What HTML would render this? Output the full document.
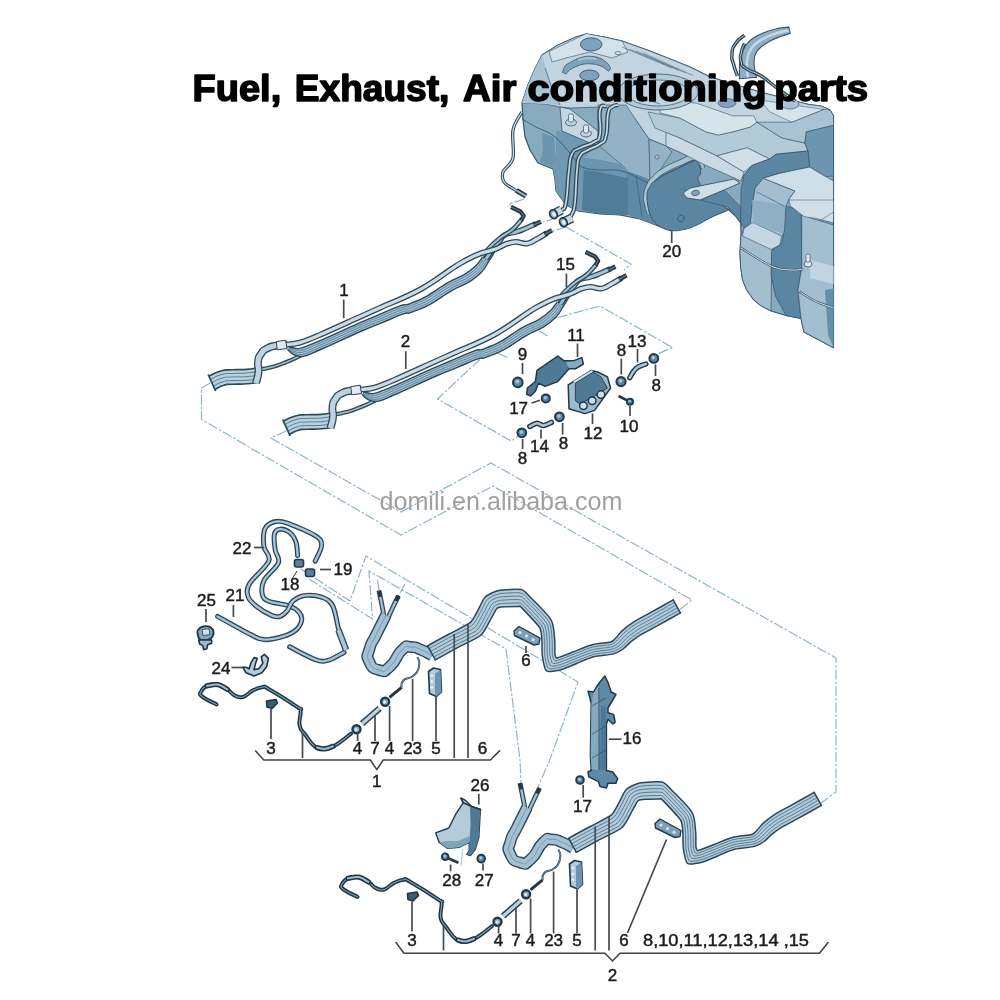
<!DOCTYPE html>
<html><head><meta charset="utf-8"><title>Fuel, Exhaust, Air conditioning parts</title>
<style>
html,body{margin:0;padding:0;background:#fff;}
body{width:1000px;height:1000px;overflow:hidden;position:relative;font-family:"Liberation Sans",sans-serif;}
svg{position:absolute;left:0;top:0;display:block}
svg.d text{font-family:"Liberation Sans",sans-serif;}
svg.t text{font-family:"Liberation Sans",sans-serif;font-weight:bold;}
</style></head><body>
<svg class="d" width="1000" height="1000" viewBox="0 0 1000 1000">
<defs><filter id="soft" x="-2%" y="-2%" width="104%" height="104%"><feGaussianBlur stdDeviation="0.45"/></filter></defs>
<g filter="url(#soft)">
<path d="M210 383 L201.5 388 L201.5 419.5 L401 535 L493 486 L692 600 L678 611" fill="none" stroke="#8db1c6" stroke-width="1.15" stroke-dasharray="10 2 2.5 2"/>
<path d="M286 431 L271 438 L401 512 L491 463 L836 658 L836 792 L821 803" fill="none" stroke="#8db1c6" stroke-width="1.15" stroke-dasharray="10 2 2.5 2"/>
<path d="M547.5 336 L530 325 L600 306 L672.5 347.5 L657.5 354" fill="none" stroke="#8db1c6" stroke-width="1.15" stroke-dasharray="10 2 2.5 2"/>
<path d="M507.5 357.5 L490 350 L437.5 399 L511 441 L519 436" fill="none" stroke="#8db1c6" stroke-width="1.15" stroke-dasharray="10 2 2.5 2"/>
<path d="M524 199 L509 204 L516 209" fill="none" stroke="#8db1c6" stroke-width="1.15" stroke-dasharray="10 2 2.5 2"/>
<path d="M556 218 L543 222" fill="none" stroke="#8db1c6" stroke-width="1.15" stroke-dasharray="10 2 2.5 2"/>
<path d="M566 227 L553 231" fill="none" stroke="#8db1c6" stroke-width="1.15" stroke-dasharray="10 2 2.5 2"/>
<path d="M566 227 L631 264 L624 270" fill="none" stroke="#8db1c6" stroke-width="1.15" stroke-dasharray="10 2 2.5 2"/>
<path d="M301 569 L350 601 L366 556 L504 637.5 L578 682 L549 762 L537 789" fill="none" stroke="#8db1c6" stroke-width="1.15" stroke-dasharray="10 2 2.5 2"/>
<path d="M309 579 L372.5 619 L369 571 L506 649 L520 760 L521 784" fill="none" stroke="#8db1c6" stroke-width="1.15" stroke-dasharray="10 2 2.5 2"/>
<path d="M377.5 580 L379 590" fill="none" stroke="#8db1c6" stroke-width="1.15" stroke-dasharray="10 2 2.5 2"/>
<path d="M405 584 L399 595" fill="none" stroke="#8db1c6" stroke-width="1.15" stroke-dasharray="10 2 2.5 2"/>
<path d="M522 103 L528 85 L534 71 L542 55 L558 45 L576 37 L586 34 L604 37 L622 41 L650 51 L690 67 L710 77 L760 92 L809 104.6 L821 106 L830 110 L833.5 116 L833.5 347.7 L804 332 L801 318.5 L786 315.5 L771 311 L761 305.8 L753 299 L746.5 289.5 L742.5 279.5 L740.6 266 L740 252.5 L741 236 L740.8 223 L736 216.6 L728.4 209.6 L692 225 L671 230.4 L655.6 225 L640 219 L620 215 L600 214 L578 211 L566 205 L556 191 L555 180 L553 169 L538 163 L530 150 L525 137 L523 120Z" fill="#88aabf" stroke="#34536a" stroke-width="1.2" stroke-linejoin="round" />
<path d="M534 71 L542 55 L558 45 L576 37 L586 34 L604 37 L622 41 L650 51 L690 67 L710 77 L760 92 L809 104.6 L821 106 L830 110 L833.5 116 L833.5 128 L806.4 131.8 L804.8 143 L808 151 L776 154.2 L769.6 159 L752 165.4 L744 175 L741 181 L703 164 L681.6 153 L666 146 L649 139 L636 120 L624 106 L600 107 L570 108 L560 107 L545 104 L522 103 L528 85Z" fill="#c1d4df" stroke="#34536a" stroke-width="0.7" stroke-linejoin="round" />
<path d="M522 103 L528 85 L534 71 L542 55 L546 68 L552 88 L560 105 L545 104Z" fill="#a9c3d2" stroke-linejoin="round" />
<path d="M545 68 L552 88 L560 105" fill="none" stroke="#34536a" stroke-width="0.6" stroke-linejoin="round" />
<path d="M542 133 L554 137 L556 160 L553 168 L540 162 L543 150Z" fill="#6c95af" stroke-linejoin="round" />
<path d="M556 131 L562 131 L590 143 L598 145 L584 158 L582 210 L578 211 L566 205 L556 191 L555 180 L553 169 L556 160Z" fill="#7198b1" stroke-linejoin="round" />
<path d="M598 105 L626 105 L636 120 L649 139 L650 180 L628 172 L622 165 L598 145 L598 131Z" fill="#93b2c5" stroke="#34536a" stroke-width="0.6" stroke-linejoin="round" />
<path d="M584 158 L600 160 L622 165 L628 172 L628 215 L620 215 L600 214 L582 210Z" fill="#4f7b96" stroke-linejoin="round" />
<path d="M584 158 L600 160 L622 165 L628 172 L627 178 L600 172 L584 170Z" fill="#6c95af" stroke-linejoin="round" />
<path d="M628 172 L650 180 L649 193 L650 210 L655.6 225 L640 219 L628 215Z" fill="#5f8aa5" stroke-linejoin="round" />
<path d="M636 176 L642 217" fill="none" stroke="#34536a" stroke-width="0.6" stroke-linejoin="round" />
<path d="M649 139 L666 146 L672 152 L660 170 L650 182Z" fill="#93b2c5" stroke="#34536a" stroke-width="0.6" stroke-linejoin="round" />
<circle cx="657" cy="157" r="2" fill="#a9c3d2" stroke="#34536a" stroke-width="0.6"/>
<path d="M686 156 L703 164 L741 181 L741 200 L728.4 209.6 L700 190Z" fill="#88aabf" stroke-linejoin="round" />
<path d="M647.3 214.3 C646.6 211.9 645.7 210.2 644.7 205.3 C643.7 200.4 643.1 201.2 643.6 195.8 C644.1 190.4 644.2 190.1 646.6 185.1 C648.9 180 648.1 181.3 652.4 176.9 C656.7 172.4 655.6 172.8 662.7 168.3 C669.8 163.9 670.9 163.8 678.9 160.3 C687 156.8 686.8 155.4 692.8 155.3 C698.8 155.2 698.4 156.8 701.5 160 C704.6 163.2 703.6 165.4 704.4 167.4 L701.6 168.6 C700.8 167.1 700.8 165.1 698.5 163 C696.2 160.9 697.8 160.1 693.2 160.7 C688.5 161.3 688.5 162.1 681.1 165.3 C673.6 168.5 672.1 168.7 665.3 172.7 C658.5 176.6 659.6 176.3 655.6 180.1 C651.7 183.9 652.6 182.6 650.4 186.9 C648.3 191.2 648.2 191.5 647.6 196.2 C647.1 201 647.7 200 648.3 204.7 C648.8 209.4 649.3 211.3 649.7 213.7 Z" fill="#a9c4d3" stroke="none"/>
<path d="M647.3 214.3 C646.6 211.9 645.7 210.2 644.7 205.3 C643.7 200.4 643.1 201.2 643.6 195.8 C644.1 190.4 644.2 190.1 646.6 185.1 C648.9 180 648.1 181.3 652.4 176.9 C656.7 172.4 655.6 172.8 662.7 168.3 C669.8 163.9 670.9 163.8 678.9 160.3 C687 156.8 686.8 155.4 692.8 155.3 C698.8 155.2 698.4 156.8 701.5 160 C704.6 163.2 703.6 165.4 704.4 167.4" fill="none" stroke="#34536a" stroke-width="0.8" stroke-linecap="round"/>
<path d="M649.7 213.7 C649.3 211.3 648.8 209.4 648.3 204.7 C647.7 200 647.1 201 647.6 196.2 C648.2 191.5 648.3 191.2 650.4 186.9 C652.6 182.6 651.7 183.9 655.6 180.1 C659.6 176.3 658.5 176.6 665.3 172.7 C672.1 168.7 673.6 168.5 681.1 165.3 C688.5 162.1 688.5 161.3 693.2 160.7 C697.8 160.1 696.2 160.9 698.5 163 C700.8 165.1 700.8 167.1 701.6 168.6" fill="none" stroke="#34536a" stroke-width="0.8" stroke-linecap="round"/>
<path d="M649 212 C648.5 207.7 646.7 202.8 647 196 C647.3 189.2 647.9 190.6 650 186.5 C652.1 182.4 651 184.1 655 180.8 C659 177.5 658.3 177.9 665 174.2 C671.7 170.5 672.3 170.7 680 167 C687.7 163.3 688.8 160.8 694 160.5 C699.2 160.2 697.8 162.7 699.5 166 C701.2 169.3 700.6 168.7 700.5 173 C700.4 177.3 695.9 175.6 699 182 C702.1 188.4 704.8 190.1 712 197 C719.2 203.9 721.6 204.6 726 208 C730.4 211.4 732.1 207.2 728.4 209.6 C724.7 212 720.6 212.8 712 217 C703.4 221.2 703.5 222.2 696 225.5 C688.5 228.8 690.7 228.2 684 229.5 C677.3 230.8 677.7 231.3 671 230.4 C664.3 229.5 664.1 229 659 226 C653.9 223 653.9 220.9 652 219Z" fill="#5a86a1" stroke="#34536a" stroke-width="0.9" stroke-linejoin="round" />
<path d="M655 181 L665 174.5 L694 161" fill="none" stroke="#34536a" stroke-width="0.7" stroke-linejoin="round" />
<ellipse cx="681" cy="218.5" rx="3" ry="3.6" transform="rotate(30 681 218.5)" fill="none" stroke="#34536a" stroke-width="0.8"/>
<path d="M700 200 L724 190 L740.8 207 L740.8 223 L736 216.6 L728 207Z" fill="#5a86a1" stroke="#34536a" stroke-width="0.6" stroke-linejoin="round" />
<path d="M683 193 L690 188 L734 179 L740 183 L724 190 L700 200 L687 198Z" fill="#cfdfe8" stroke="#34536a" stroke-width="0.9" stroke-linejoin="round" />
<ellipse cx="695.5" cy="193" rx="4" ry="2.6" transform="rotate(-12 695.5 193)" fill="#7fa3ba" stroke="#34536a" stroke-width="0.7"/>
<path d="M666 132 L680 138 L716.8 155.8 L744 172 L741 181 L703 164 L681.6 153 L666 146Z" fill="#c9dae4" stroke="#34536a" stroke-width="0.6" stroke-linejoin="round" />
<path d="M648 112 L680 118 L705.6 131.8 L718.4 135 L732.8 131.8 L750.4 127 L756.8 122.2 L782 138 L804.8 143 L808 151 L776 154.2 L769.6 159 L747.2 147.8 L716.8 155.8 L680 138 L655 128Z" fill="#b3cad7" stroke="#34536a" stroke-width="0.6" stroke-linejoin="round" />
<path d="M660 108 L680 102 L696 103 L732.8 115.8 L753.6 115.8 L756.8 122.2 L750.4 127 L732.8 131.8 L718.4 135 L705.6 131.8 L680 118 L660 113Z" fill="#d5e3eb" stroke="#34536a" stroke-width="0.6" stroke-linejoin="round" />
<path d="M716.8 155.8 L747.2 147.8 L769.6 159 L752 165.4 L744 172Z" fill="#cfdee7" stroke="#34536a" stroke-width="0.6" stroke-linejoin="round" />
<path d="M760 100 L800 106 L824 109.4 L792 122.2 L770 112Z" fill="#d5e3eb" stroke="#34536a" stroke-width="0.5" stroke-linejoin="round" />
<path d="M792 122.2 L824 109.4 L830 110 L833.5 116 L833.5 125.4 L806.4 131.8 L804.8 143 L782 138 L756.8 122.2Z" fill="#a9c3d2" stroke="#34536a" stroke-width="0.6" stroke-linejoin="round" />
<path d="M806.4 131.8 L833.5 125.4 L833.5 176 L825.6 176.6 L809.6 167 L808 151 L804.8 143Z" fill="#6c95af" stroke="#34536a" stroke-width="0.6" stroke-linejoin="round" />
<path d="M744 175 L752 165.4 L769.6 159 L776 154.2 L808 151 L809.6 167 L779.2 173.4 L763.2 178.2 L755.2 187.8 L752 207 L750.4 223 L744 227.8 L740.8 223 L740.8 207 L741 190Z" fill="#5c87a2" stroke="#34536a" stroke-width="0.7" stroke-linejoin="round" />
<path d="M755.2 187.8 L763.2 178.2 L795 191 L789 199 L785.6 207 L783 235 L772 250 L771 311 L761 305.8 L753 299 L746.5 289.5 L742.5 279.5 L740.6 266 L740 252.5 L741 236 L744 227.8 L750.4 223 L752 207Z" fill="#a3bfcf" stroke="#34536a" stroke-width="0.7" stroke-linejoin="round" />
<path d="M763.2 178.2 L779.2 173.4 L809.6 167 L825.6 176.6 L833.5 181 L833.5 223 L822 220 L816 220 L804.8 210.2 L792 205.4 L789 199 L795 191Z" fill="#cfdfe8" stroke="#34536a" stroke-width="0.7" stroke-linejoin="round" />
<path d="M744 228.5 L753 222.5 L781.5 236 L780 245 L771 249.5 L742.5 236Z" fill="#c3d6e1" stroke="#34536a" stroke-width="0.6" stroke-linejoin="round" />
<path d="M752.2 200 L786 205 L784.5 234.5 L753 222.5Z" fill="#8fb0c4" stroke-linejoin="round" />
<path d="M757 192 L784 206" fill="none" stroke="#34536a" stroke-width="0.6" stroke-linejoin="round" />
<path d="M786 206 L801 210.5 L801.7 267.5 L798 290 L801 318.5 L786 315.5 L775.5 296 L771 275 L771.7 251 L781.5 243.5 L784.5 230Z" fill="#5a86a1" stroke="#34536a" stroke-width="0.7" stroke-linejoin="round" />
<path d="M801.7 215 L833.5 225 L833.5 347.7 L804 332 L801 318.5 L798 290 L801.7 267.5Z" fill="#a3bfcf" stroke="#34536a" stroke-width="0.7" stroke-linejoin="round" />
<path d="M789 200 L833.5 200 L833.5 212 L822 219.5 L804 216.5 L790.5 206Z" fill="#cfdee7" stroke="#34536a" stroke-width="0.5" stroke-linejoin="round" />
<path d="M810 260 L833.5 266 L833.5 284 L810 278Z" fill="#c0d4df" stroke-linejoin="round" />
<path d="M825 290 L833.5 288.5 L833.5 347.7 L828 335Z" fill="#6690aa" stroke-linejoin="round" />
<path d="M741 248 C746 251 762.8 262.3 771 266 C779.2 269.7 784.5 269.5 790 270 C795.5 270.5 801.7 269.2 804 269" fill="none" stroke="#34536a" stroke-width="2.2" stroke-linejoin="round" />
<path d="M799.5 291.5 C802.1 293.1 809.3 298.2 815 301 C820.7 303.8 830.4 306.8 833.5 308" fill="none" stroke="#34536a" stroke-width="2.2" stroke-linejoin="round" />
<path d="M741 248 C746 251 762.8 262.3 771 266 C779.2 269.7 784.5 269.5 790 270 C795.5 270.5 801.7 269.2 804 269" fill="none" stroke="#dfeaf1" stroke-width="1" stroke-linejoin="round" />
<path d="M799.5 291.5 C802.1 293.1 809.3 298.2 815 301 C820.7 303.8 830.4 306.8 833.5 308" fill="none" stroke="#dfeaf1" stroke-width="1" stroke-linejoin="round" />
<ellipse cx="808" cy="264" rx="4" ry="3" fill="#dfeaf1" stroke="#34536a" stroke-width="0.8"/>
<rect x="806" y="254" width="4" height="8" rx="1.5" fill="#dfeaf1" stroke="#34536a" stroke-width="0.7"/>
<path d="M549 51.5 L586.4 33.6 L604 37 L622 41 L628 52 L612 58 L590 52 L566 58 L552 62Z" fill="#d3e2ea" stroke="#34536a" stroke-width="0.6" stroke-linejoin="round" />
<ellipse cx="591.2" cy="44.4" rx="10.8" ry="6.6" fill="#7da2b9" stroke="#34536a" stroke-width="0.9"/>
<path d="M562.4 72.4 C562.8 71.3 563.8 67.6 565 66 C566.2 64.4 567.4 64 569.6 62.8 C571.8 61.5 575 59.6 578 58.5 C581 57.4 584.6 56.5 587.6 56.2 C590.6 56 593.6 56.5 596 57 C598.4 57.5 600.2 58.2 602 59.2 C603.8 60.2 605.6 61.6 607 63 C608.4 64.4 610.1 66.3 610.4 67.6 C610.7 68.9 609.6 70.6 609 71 C608.4 71.4 608 70.8 606.8 70 C605.6 69.2 604.3 67.4 602 66.4 C599.7 65.4 596 64.4 593 64 C590 63.6 586.8 63.6 584 64 C581.2 64.4 578.4 65.5 576 66.5 C573.6 67.5 571.3 68.8 569.6 70 C567.9 71.2 566.6 73.3 566 74Z" fill="#7fa3ba" stroke="#34536a" stroke-width="0.8" stroke-linejoin="round" />
<path d="M578 60 C579.6 59.7 584.6 58.2 587.6 58 C590.6 57.8 594.6 58.8 596 59" fill="none" stroke="#a9c3d2" stroke-width="2" stroke-linejoin="round" />
<ellipse cx="589.4" cy="75.4" rx="9.6" ry="5.4" fill="#7da2b9" stroke="#34536a" stroke-width="0.9"/>
<ellipse cx="618" cy="53" rx="3" ry="1.6" fill="none" stroke="#34536a" stroke-width="0.6"/>
<path d="M622 47 L672 68" fill="none" stroke="#34536a" stroke-width="0.5" stroke-linejoin="round" />
<path d="M629 49 L679 70.5" fill="none" stroke="#34536a" stroke-width="0.5" stroke-linejoin="round" />
<path d="M636 51 L686 73" fill="none" stroke="#34536a" stroke-width="0.5" stroke-linejoin="round" />
<path d="M643 53 L693 75.5" fill="none" stroke="#34536a" stroke-width="0.5" stroke-linejoin="round" />
<ellipse cx="658" cy="92" rx="40" ry="18" fill="#b3cad7" stroke="#34536a" stroke-width="0.8"/>
<ellipse cx="658" cy="93" rx="31" ry="13" fill="#c1d4df" stroke="#34536a" stroke-width="0.7"/>
<ellipse cx="727" cy="103" rx="9" ry="4.5" fill="#7ea3ba" stroke="#34536a" stroke-width="0.6"/>
<ellipse cx="790" cy="104" rx="9" ry="5" fill="#a9c3d2" stroke="#34536a" stroke-width="0.7"/>
<path d="M560 107 L570 109 L598 131 L598 145 L590 143 L562 131Z" fill="#c5d6e0" stroke="#34536a" stroke-width="0.8" stroke-linejoin="round" />
<ellipse cx="571" cy="122.5" rx="5.5" ry="3.4" fill="#c1d4df" stroke="#34536a" stroke-width="0.8"/>
<rect x="568.5" y="114" width="5" height="8" rx="1.5" fill="#dce8ef" stroke="#34536a" stroke-width="0.7"/>
<ellipse cx="586" cy="133.5" rx="5.5" ry="3.4" fill="#c1d4df" stroke="#34536a" stroke-width="0.8"/>
<rect x="583.5" y="125" width="5" height="8" rx="1.5" fill="#dce8ef" stroke="#34536a" stroke-width="0.7"/>
<path d="M522 119 C524.7 120.5 532.7 125.2 538 128 C543.3 130.8 548.7 131.8 554 136 C559.3 140.2 565.3 147.8 570 153 C574.7 158.2 577 164.2 582 167 C587 169.8 593.3 169.3 600 170 C606.7 170.7 614 168.8 622 171 C630 173.2 643.7 181 648 183" fill="none" stroke="#34536a" stroke-width="0.8" stroke-linejoin="round" />
<path d="M650 100.5 L660 104" fill="none" stroke="#34536a" stroke-width="0.6" stroke-linejoin="round" />
<path d="M739.5 78.8 C739.5 76 739.1 74.1 739.5 68.2 C739.8 62.3 739.2 62.6 740.8 56.6 C742.5 50.5 742 50.6 745.7 45.5 C749.3 40.4 749.2 40.9 754.6 37.3 C760 33.7 759.7 34.3 765.9 31.9 C772.1 29.6 771.7 29.7 777.8 28.4 C783.9 27.1 785.9 27.5 788.8 27.1 L790.2 33.5 C787.5 34.3 785.5 34.6 780.2 36.6 C774.8 38.6 775.1 38.4 770.1 41.1 C765.1 43.8 765.1 43.6 761.4 46.7 C757.8 49.7 758.3 49.1 756.3 52.5 C754.4 55.9 754.7 55.3 754.2 59.4 C753.7 63.5 753.9 63.1 754.5 67.8 C755.1 72.5 755.9 74.7 756.5 77.2 Z" fill="#8fb0c4" stroke="none"/>
<path d="M748 78 C747.7 75.3 747.1 73.3 747 68 C746.9 62.7 746.4 63.1 747.5 58 C748.6 52.9 748.2 53.3 751 49 C753.8 44.7 753.5 45.3 758 42 C762.5 38.7 762.4 39 768 36.5 C773.6 34 773.3 34.2 779 32.5 C784.7 30.8 786.7 30.9 789.5 30.3" fill="none" stroke="#c5d8e3" stroke-width="2.4"/>
<path d="M739.5 78.8 C739.5 76 739.1 74.1 739.5 68.2 C739.8 62.3 739.2 62.6 740.8 56.6 C742.5 50.5 742 50.6 745.7 45.5 C749.3 40.4 749.2 40.9 754.6 37.3 C760 33.7 759.7 34.3 765.9 31.9 C772.1 29.6 771.7 29.7 777.8 28.4 C783.9 27.1 785.9 27.5 788.8 27.1" fill="none" stroke="#34536a" stroke-width="1.1" stroke-linecap="round"/>
<path d="M756.5 77.2 C755.9 74.7 755.1 72.5 754.5 67.8 C753.9 63.1 753.7 63.5 754.2 59.4 C754.7 55.3 754.4 55.9 756.3 52.5 C758.3 49.1 757.8 49.7 761.4 46.7 C765.1 43.6 765.1 43.8 770.1 41.1 C775.1 38.4 774.8 38.6 780.2 36.6 C785.5 34.6 787.5 34.3 790.2 33.5" fill="none" stroke="#34536a" stroke-width="1.1" stroke-linecap="round"/>
<path d="M739.5 78.8 L756.5 77.2" stroke="#34536a" stroke-width="1.1" stroke-linecap="round"/>
<path d="M788.8 27.1 L790.2 33.5" stroke="#34536a" stroke-width="1.1" stroke-linecap="round"/>
<path d="M737.4 76 C736.1 72 735.3 71.3 733.5 64 C731.7 56.7 731.3 60.9 732 54 C732.7 47.1 731.4 49.6 735.6 43.4 C739.8 37.2 741.6 38 744.6 35.3" fill="none" stroke="#2e4857" stroke-width="3.5" stroke-linejoin="round" stroke-linecap="butt"/>
<path d="M737.4 76 C736.1 72 735.3 71.3 733.5 64 C731.7 56.7 731.3 60.9 732 54 C732.7 47.1 731.4 49.6 735.6 43.4 C739.8 37.2 741.6 38 744.6 35.3" fill="none" stroke="#d5e3eb" stroke-width="0.9" stroke-linejoin="round" stroke-linecap="butt"/>
<path d="M744.6 43.4 C743.6 46.3 742.7 46 741.5 52 C740.3 58 739.4 55.9 741 61.4 C742.6 66.9 739.8 63.8 746.4 68.6 C753 73.4 751.2 69.8 760.8 75.8 C770.4 81.8 763.8 78.2 775.2 86.6 C786.6 95 788.4 96.2 795 101" fill="none" stroke="#2e4857" stroke-width="3.5" stroke-linejoin="round" stroke-linecap="butt"/>
<path d="M744.6 43.4 C743.6 46.3 742.7 46 741.5 52 C740.3 58 739.4 55.9 741 61.4 C742.6 66.9 739.8 63.8 746.4 68.6 C753 73.4 751.2 69.8 760.8 75.8 C770.4 81.8 763.8 78.2 775.2 86.6 C786.6 95 788.4 96.2 795 101" fill="none" stroke="#d5e3eb" stroke-width="0.9" stroke-linejoin="round" stroke-linecap="butt"/>
<path d="M522 112 C520.5 115 514.5 122.3 513 130 C511.5 137.7 514.7 151 513 158 C511.3 165 504.5 168 503 172 C501.5 176 502.5 179.3 504 182 C505.5 184.7 509.2 186.1 512 188 C514.8 189.9 519.5 192.6 521 193.5" fill="none" stroke="#2e4857" stroke-width="3.3" stroke-linejoin="round" stroke-linecap="butt"/>
<path d="M522 112 C520.5 115 514.5 122.3 513 130 C511.5 137.7 514.7 151 513 158 C511.3 165 504.5 168 503 172 C501.5 176 502.5 179.3 504 182 C505.5 184.7 509.2 186.1 512 188 C514.8 189.9 519.5 192.6 521 193.5" fill="none" stroke="#c9dae4" stroke-width="1.3" stroke-linejoin="round" stroke-linecap="butt"/>
<path d="M516.5 190.5 L526 196.2" fill="none" stroke="#27343d" stroke-width="5" stroke-linejoin="round" stroke-linecap="butt"/>
<path d="M516.5 190.5 L526 196.2" fill="none" stroke="#9db6c5" stroke-width="2" stroke-linejoin="round" stroke-linecap="butt"/>
<path d="M618 105 C616.4 105.5 614.7 104.6 612 107 C609.3 109.4 609.6 106.3 608 114 C606.4 121.7 608.1 128 606 136 C603.9 144 604.8 140.3 600 144 C595.2 147.7 593.3 146.8 588 150 C582.7 153.2 582.9 150.7 580 156 C577.1 161.3 578.3 157.7 577 170 C575.7 182.3 576.3 190.3 575 202 C573.7 213.7 573.9 209.2 572 214 C570.1 218.8 569.1 218.4 568 220" fill="none" stroke="#2e4857" stroke-width="4.3" stroke-linejoin="round" stroke-linecap="butt"/>
<path d="M618 105 C616.4 105.5 614.7 104.6 612 107 C609.3 109.4 609.6 106.3 608 114 C606.4 121.7 608.1 128 606 136 C603.9 144 604.8 140.3 600 144 C595.2 147.7 593.3 146.8 588 150 C582.7 153.2 582.9 150.7 580 156 C577.1 161.3 578.3 157.7 577 170 C575.7 182.3 576.3 190.3 575 202 C573.7 213.7 573.9 209.2 572 214 C570.1 218.8 569.1 218.4 568 220" fill="none" stroke="#c9dae4" stroke-width="1.7" stroke-linejoin="round" stroke-linecap="butt"/>
<path d="M606 106 C604.4 107.1 601.6 102.5 600 110 C598.4 117.5 601.6 125.5 600 134 C598.4 142.5 599.3 138.3 594 142 C588.7 145.7 585.9 144.8 580 148 C574.1 151.2 574.9 148.1 572 154 C569.1 159.9 570.6 157.2 569 170 C567.4 182.8 567.9 191.3 566 202 C564.1 212.7 564.1 207.1 562 210 C559.9 212.9 559.1 212.2 558 213" fill="none" stroke="#2e4857" stroke-width="4.3" stroke-linejoin="round" stroke-linecap="butt"/>
<path d="M606 106 C604.4 107.1 601.6 102.5 600 110 C598.4 117.5 601.6 125.5 600 134 C598.4 142.5 599.3 138.3 594 142 C588.7 145.7 585.9 144.8 580 148 C574.1 151.2 574.9 148.1 572 154 C569.1 159.9 570.6 157.2 569 170 C567.4 182.8 567.9 191.3 566 202 C564.1 212.7 564.1 207.1 562 210 C559.9 212.9 559.1 212.2 558 213" fill="none" stroke="#c9dae4" stroke-width="1.7" stroke-linejoin="round" stroke-linecap="butt"/>
<path d="M553.5 214.2 L561.5 209.8" fill="none" stroke="#2a3f4e" stroke-width="9.4" stroke-linejoin="round" stroke-linecap="butt"/>
<path d="M553.5 214.2 L561.5 209.8" fill="none" stroke="#c9dae4" stroke-width="6.8" stroke-linejoin="round" stroke-linecap="butt"/>
<ellipse cx="553.5" cy="214.2" rx="3.6" ry="4.6" transform="rotate(-28 553.5 214.2)" fill="#8fb0c4" stroke="#233746" stroke-width="1.7"/>
<ellipse cx="553.9" cy="214.5" rx="1.7" ry="2.5" transform="rotate(-28 553.5 214.2)" fill="#e8f0f5"/>
<path d="M563.4 222.3 L572 218" fill="none" stroke="#2a3f4e" stroke-width="9.4" stroke-linejoin="round" stroke-linecap="butt"/>
<path d="M563.4 222.3 L572 218" fill="none" stroke="#c9dae4" stroke-width="6.8" stroke-linejoin="round" stroke-linecap="butt"/>
<ellipse cx="563.4" cy="222.3" rx="3.6" ry="4.6" transform="rotate(-28 563.4 222.3)" fill="#8fb0c4" stroke="#233746" stroke-width="1.7"/>
<ellipse cx="563.8" cy="222.60000000000002" rx="1.7" ry="2.5" transform="rotate(-28 563.4 222.3)" fill="#e8f0f5"/>
<line x1="671.7" y1="230" x2="671.7" y2="243" stroke="#454b50" stroke-width="1.7"/>
<text x="671.7" y="257" font-size="17" text-anchor="middle" fill="#1c1c1c" stroke="#1c1c1c" stroke-width="0.45" >20</text>
<g transform="translate(0 0)">
<path d="M259 369.5 C262.7 368.8 261.7 369.7 270 367.5 C278.3 365.3 274.7 366.6 284 363 C293.3 359.4 290 360.6 298 356.8 C306 353 304.7 353.3 308 351.5" fill="none" stroke="#2e4857" stroke-width="4.1" stroke-linejoin="round" stroke-linecap="butt"/>
<path d="M259 369.5 C262.7 368.8 261.7 369.7 270 367.5 C278.3 365.3 274.7 366.6 284 363 C293.3 359.4 290 360.6 298 356.8 C306 353 304.7 353.3 308 351.5" fill="none" stroke="#a3c1d3" stroke-width="1.5" stroke-linejoin="round" stroke-linecap="butt"/>
<path d="M212 382.8 C215.3 381.3 215.3 380.1 222 378.2 C228.7 376.3 223.7 377.5 232 377 C240.3 376.5 238.3 377.3 247 376.6 C255.7 375.9 254.3 375.5 258 375" fill="none" stroke="#2e4857" stroke-width="16.1" stroke-linejoin="round" stroke-linecap="butt"/>
<path d="M212 382.8 C215.3 381.3 215.3 380.1 222 378.2 C228.7 376.3 223.7 377.5 232 377 C240.3 376.5 238.3 377.3 247 376.6 C255.7 375.9 254.3 375.5 258 375" fill="none" stroke="#b9d0dd" stroke-width="12.9" stroke-linejoin="round" stroke-linecap="butt"/>
<path d="M212 382.8 C215.3 381.3 215.3 380.1 222 378.2 C228.7 376.3 223.7 377.5 232 377 C240.3 376.5 238.3 377.3 247 376.6 C255.7 375.9 254.3 375.5 258 375" fill="none" stroke="#587f98" stroke-width="8.2" stroke-linejoin="round" stroke-linecap="butt"/>
<path d="M212 382.8 C215.3 381.3 215.3 380.1 222 378.2 C228.7 376.3 223.7 377.5 232 377 C240.3 376.5 238.3 377.3 247 376.6 C255.7 375.9 254.3 375.5 258 375" fill="none" stroke="#b9d0dd" stroke-width="6.2" stroke-linejoin="round" stroke-linecap="butt"/>
<path d="M212 382.8 C215.3 381.3 215.3 380.1 222 378.2 C228.7 376.3 223.7 377.5 232 377 C240.3 376.5 238.3 377.3 247 376.6 C255.7 375.9 254.3 375.5 258 375" fill="none" stroke="#587f98" stroke-width="1" stroke-linejoin="round" stroke-linecap="butt"/>
<path d="M208.2 374.5 L215.6 391" fill="none" stroke="#2e4857" stroke-width="1.8" stroke-linejoin="round" stroke-linecap="butt"/>
<path d="M256 383 C256.8 379.3 257.8 379 258.5 372 C259.2 365 257.2 368 258 362 C258.8 356 258 358.5 261 354 C264 349.5 261.8 351.3 267 348.5 C272.2 345.7 269.8 346.9 276.5 345.6 C283.2 344.3 283.5 344.9 287 344.6" fill="none" stroke="#2e4857" stroke-width="7.9" stroke-linejoin="round" stroke-linecap="butt"/>
<path d="M256 383 C256.8 379.3 257.8 379 258.5 372 C259.2 365 257.2 368 258 362 C258.8 356 258 358.5 261 354 C264 349.5 261.8 351.3 267 348.5 C272.2 345.7 269.8 346.9 276.5 345.6 C283.2 344.3 283.5 344.9 287 344.6" fill="none" stroke="#bcd3e0" stroke-width="5.3" stroke-linejoin="round" stroke-linecap="butt"/>
<path d="M289.2 346.9 C290.5 347.2 293.3 348.2 295.8 348.4 C298.4 348.6 297.4 349.3 301.9 347.9 C306.5 346.5 307.1 346.3 318.3 341.4 C329.6 336.5 346.3 328.7 358.3 323.4 C370.3 318.1 369.9 318.4 378.4 314.8 C386.8 311.3 394.9 307.7 400.6 305.7 C406.3 303.7 404.6 305.4 406.9 304.8 C409.3 304.2 408.5 304.4 412.3 302.7 C416.1 301.1 418.8 300.8 425.9 296.7 C433 292.7 440.1 287.1 447.8 282.7 C455.5 278.3 458.6 278 464.2 274.6 C469.8 271.3 472 269.3 475.6 266 C479.2 262.6 479.4 261.4 482.1 257.8 C484.7 254.3 487.5 250 488.9 248.1 L494.7 251.9 C493.4 254 491 258.1 488.3 262.2 C485.7 266.2 485.5 268 481.6 272 C477.7 276 474.7 278.5 468.8 282.2 C462.9 285.8 459.9 285.9 452.2 290.3 C444.5 294.7 437.4 300.2 430.1 304.3 C422.8 308.3 419.9 308.9 415.7 310.7 C411.5 312.4 411.5 312.5 409.1 313.2 C406.6 313.8 408.9 312 403.4 313.9 C397.9 315.8 390 319.4 381.6 322.8 C373.3 326.2 373.7 325.8 361.7 331 C349.7 336.2 333.2 344 321.7 349 C310.1 354 309.5 355 304.1 356.1 C298.6 357.3 297.4 356 294.2 354.8 C290.9 353.5 289.1 350.7 287.8 349.7 Z" fill="#a3c1d3" stroke="none"/>
<path d="M288.9 347.6 C290.2 348.1 292.7 349.5 295.4 350 C298.1 350.5 297.7 351.3 302.5 349.9 C307.2 348.6 307.8 348.2 319.2 343.3 C330.5 338.4 347.2 330.6 359.2 325.3 C371.2 320 370.8 320.3 379.2 316.8 C387.6 313.3 395.6 309.7 401.3 307.8 C406.9 305.8 405.1 307.5 407.5 306.9 C409.8 306.3 409.3 306.4 413.2 304.7 C417.1 303.1 419.8 302.6 426.9 298.6 C434.1 294.6 441.2 289 448.9 284.6 C456.6 280.2 459.7 279.9 465.3 276.5 C471 273.1 473.5 271 477.1 267.5 C480.8 264 481 262.6 483.6 258.9 C486.3 255.2 489 251 490.3 249" fill="none" stroke="#587f98" stroke-width="0.9"/>
<path d="M288.5 348.3 C289.8 349 292.1 350.9 295 351.6 C297.9 352.3 298 353.3 303 352 C308 350.7 308.6 350.2 320 345.2 C331.4 340.2 348 332.5 360 327.2 C372 321.9 371.6 322.3 380 318.8 C388.4 315.3 396.4 311.8 402 309.8 C407.6 307.8 405.6 309.6 408 309 C410.4 308.4 410 308.4 414 306.7 C418 305 420.8 304.5 428 300.5 C435.2 296.5 442.3 290.9 450 286.5 C457.7 282.1 460.8 281.9 466.5 278.4 C472.2 274.9 474.9 272.7 478.6 269 C482.3 265.3 482.6 263.8 485.2 260 C487.8 256.2 490.5 252 491.8 250" fill="none" stroke="#587f98" stroke-width="0.9"/>
<path d="M288.1 349 C289.4 349.8 291.5 352.2 294.6 353.2 C297.7 354.2 298.3 355.3 303.5 354.1 C308.8 352.8 309.4 352.1 320.8 347.1 C332.3 342.1 348.8 334.4 360.8 329.1 C372.8 323.8 372.4 324.2 380.8 320.8 C389.2 317.3 397.2 313.8 402.7 311.8 C408.3 309.9 406.1 311.7 408.5 311.1 C411 310.5 410.7 310.4 414.8 308.7 C418.9 306.9 421.8 306.4 429.1 302.4 C436.3 298.3 443.4 292.8 451.1 288.4 C458.8 284 461.9 283.9 467.7 280.3 C473.5 276.7 476.3 274.4 480.1 270.5 C483.9 266.7 484.1 265 486.8 261.1 C489.4 257.2 492 253 493.3 251" fill="none" stroke="#587f98" stroke-width="0.9"/>
<path d="M289.2 346.9 C290.5 347.2 293.3 348.2 295.8 348.4 C298.4 348.6 297.4 349.3 301.9 347.9 C306.5 346.5 307.1 346.3 318.3 341.4 C329.6 336.5 346.3 328.7 358.3 323.4 C370.3 318.1 369.9 318.4 378.4 314.8 C386.8 311.3 394.9 307.7 400.6 305.7 C406.3 303.7 404.6 305.4 406.9 304.8 C409.3 304.2 408.5 304.4 412.3 302.7 C416.1 301.1 418.8 300.8 425.9 296.7 C433 292.7 440.1 287.1 447.8 282.7 C455.5 278.3 458.6 278 464.2 274.6 C469.8 271.3 472 269.3 475.6 266 C479.2 262.6 479.4 261.4 482.1 257.8 C484.7 254.3 487.5 250 488.9 248.1" fill="none" stroke="#2e4857" stroke-width="1.4" stroke-linecap="round"/>
<path d="M287.8 349.7 C289.1 350.7 290.9 353.5 294.2 354.8 C297.4 356 298.6 357.3 304.1 356.1 C309.5 355 310.1 354 321.7 349 C333.2 344 349.7 336.2 361.7 331 C373.7 325.8 373.3 326.2 381.6 322.8 C390 319.4 397.9 315.8 403.4 313.9 C408.9 312 406.6 313.8 409.1 313.2 C411.5 312.5 411.5 312.4 415.7 310.7 C419.9 308.9 422.8 308.3 430.1 304.3 C437.4 300.2 444.5 294.7 452.2 290.3 C459.9 285.9 462.9 285.8 468.8 282.2 C474.7 278.5 477.7 276 481.6 272 C485.5 268 485.7 266.2 488.3 262.2 C491 258.1 493.4 254 494.7 251.9" fill="none" stroke="#2e4857" stroke-width="1.4" stroke-linecap="round"/>
<path d="M486 259 C487.4 256.9 488.9 254.2 492 250 C495.1 245.8 496.5 244.7 499.5 241.2 C502.5 237.7 501.1 236.9 505 234.8 C508.9 232.7 510.9 233.6 516 232 C521.1 230.4 522.3 229.7 527 227.8 C531.7 225.9 533.9 224.7 536 223.8" fill="none" stroke="#2e4857" stroke-width="5.5" stroke-linejoin="round" stroke-linecap="butt"/>
<path d="M486 259 C487.4 256.9 488.9 254.2 492 250 C495.1 245.8 496.5 244.7 499.5 241.2 C502.5 237.7 501.1 236.9 505 234.8 C508.9 232.7 510.9 233.6 516 232 C521.1 230.4 522.3 229.7 527 227.8 C531.7 225.9 533.9 224.7 536 223.8" fill="none" stroke="#a3c1d3" stroke-width="2.9" stroke-linejoin="round" stroke-linecap="butt"/>
<path d="M482 257 C483.9 254.7 485.8 251.4 490 247 C494.2 242.6 495 241.9 500 238 C505 234.1 507.4 233.6 511.6 230.2 C515.8 226.8 515.8 226.2 518.2 223.6 C520.6 221 521.1 220.1 522 219" fill="none" stroke="#2e4857" stroke-width="4.7" stroke-linejoin="round" stroke-linecap="butt"/>
<path d="M482 257 C483.9 254.7 485.8 251.4 490 247 C494.2 242.6 495 241.9 500 238 C505 234.1 507.4 233.6 511.6 230.2 C515.8 226.8 515.8 226.2 518.2 223.6 C520.6 221 521.1 220.1 522 219" fill="none" stroke="#a3c1d3" stroke-width="2.1" stroke-linejoin="round" stroke-linecap="butt"/>
<path d="M286 344.6 C288.8 344.2 293.2 344.6 300 342.6 C306.8 340.6 308 340 320 334.8 C332 329.6 348 322.2 360 316.8 C372 311.4 368 313.2 380 307.8 C392 302.4 405 297.8 420 289.6 C435 281.4 445.7 272.5 455 266.6 C464.3 260.7 461.3 262.6 466.5 259.9 C471.7 257.2 475.3 255.4 480.8 253.3 C486.3 251.2 488.7 251.5 494 249.6 C499.3 247.7 502.8 245.2 507.2 243.6 C511.6 242 512 241.8 516 241.8 C520 241.8 522.8 244.2 527 243.6 C531.2 243 532.9 241.1 536.9 239 C540.9 236.9 545 234.2 547 233" fill="none" stroke="#2e4857" stroke-width="5.8" stroke-linejoin="round" stroke-linecap="butt"/>
<path d="M286 344.6 C288.8 344.2 293.2 344.6 300 342.6 C306.8 340.6 308 340 320 334.8 C332 329.6 348 322.2 360 316.8 C372 311.4 368 313.2 380 307.8 C392 302.4 405 297.8 420 289.6 C435 281.4 445.7 272.5 455 266.6 C464.3 260.7 461.3 262.6 466.5 259.9 C471.7 257.2 475.3 255.4 480.8 253.3 C486.3 251.2 488.7 251.5 494 249.6 C499.3 247.7 502.8 245.2 507.2 243.6 C511.6 242 512 241.8 516 241.8 C520 241.8 522.8 244.2 527 243.6 C531.2 243 532.9 241.1 536.9 239 C540.9 236.9 545 234.2 547 233" fill="none" stroke="#cbdce6" stroke-width="3.2" stroke-linejoin="round" stroke-linecap="butt"/>
<path d="M276.3 341.6 L285.6 340.2 L287 348.6 L277.2 349.8Z" fill="#dfeaf1" stroke="#2e4857" stroke-width="1" stroke-linejoin="round" />
<path d="M521 220.5 L523.7 216 L520.4 211.5 L511 207" fill="none" stroke="#27343d" stroke-width="4.2" stroke-linejoin="round" stroke-linecap="butt"/>
<path d="M521 220.5 L523.7 216 L520.4 211.5 L511 207" fill="none" stroke="#6c8596" stroke-width="1" stroke-linejoin="round" stroke-linecap="butt"/>
<path d="M533.5 225 L541 221.6" fill="none" stroke="#27343d" stroke-width="4.6" stroke-linejoin="round" stroke-linecap="butt"/>
<path d="M533.5 225 L541 221.6" fill="none" stroke="#6c8596" stroke-width="1.2" stroke-linejoin="round" stroke-linecap="butt"/>
<path d="M544.5 234.5 L552 230.2" fill="none" stroke="#27343d" stroke-width="4.6" stroke-linejoin="round" stroke-linecap="butt"/>
<path d="M544.5 234.5 L552 230.2" fill="none" stroke="#6c8596" stroke-width="1.2" stroke-linejoin="round" stroke-linecap="butt"/>
</g>
<g transform="translate(74.5 45)">
<path d="M259 369.5 C262.7 368.8 261.7 369.7 270 367.5 C278.3 365.3 274.7 366.6 284 363 C293.3 359.4 290 360.6 298 356.8 C306 353 304.7 353.3 308 351.5" fill="none" stroke="#2e4857" stroke-width="4.1" stroke-linejoin="round" stroke-linecap="butt"/>
<path d="M259 369.5 C262.7 368.8 261.7 369.7 270 367.5 C278.3 365.3 274.7 366.6 284 363 C293.3 359.4 290 360.6 298 356.8 C306 353 304.7 353.3 308 351.5" fill="none" stroke="#a3c1d3" stroke-width="1.5" stroke-linejoin="round" stroke-linecap="butt"/>
<path d="M212 382.8 C215.3 381.3 215.3 380.1 222 378.2 C228.7 376.3 223.7 377.5 232 377 C240.3 376.5 238.3 377.3 247 376.6 C255.7 375.9 254.3 375.5 258 375" fill="none" stroke="#2e4857" stroke-width="16.1" stroke-linejoin="round" stroke-linecap="butt"/>
<path d="M212 382.8 C215.3 381.3 215.3 380.1 222 378.2 C228.7 376.3 223.7 377.5 232 377 C240.3 376.5 238.3 377.3 247 376.6 C255.7 375.9 254.3 375.5 258 375" fill="none" stroke="#b9d0dd" stroke-width="12.9" stroke-linejoin="round" stroke-linecap="butt"/>
<path d="M212 382.8 C215.3 381.3 215.3 380.1 222 378.2 C228.7 376.3 223.7 377.5 232 377 C240.3 376.5 238.3 377.3 247 376.6 C255.7 375.9 254.3 375.5 258 375" fill="none" stroke="#587f98" stroke-width="8.2" stroke-linejoin="round" stroke-linecap="butt"/>
<path d="M212 382.8 C215.3 381.3 215.3 380.1 222 378.2 C228.7 376.3 223.7 377.5 232 377 C240.3 376.5 238.3 377.3 247 376.6 C255.7 375.9 254.3 375.5 258 375" fill="none" stroke="#b9d0dd" stroke-width="6.2" stroke-linejoin="round" stroke-linecap="butt"/>
<path d="M212 382.8 C215.3 381.3 215.3 380.1 222 378.2 C228.7 376.3 223.7 377.5 232 377 C240.3 376.5 238.3 377.3 247 376.6 C255.7 375.9 254.3 375.5 258 375" fill="none" stroke="#587f98" stroke-width="1" stroke-linejoin="round" stroke-linecap="butt"/>
<path d="M208.2 374.5 L215.6 391" fill="none" stroke="#2e4857" stroke-width="1.8" stroke-linejoin="round" stroke-linecap="butt"/>
<path d="M256 383 C256.8 379.3 257.8 379 258.5 372 C259.2 365 257.2 368 258 362 C258.8 356 258 358.5 261 354 C264 349.5 261.8 351.3 267 348.5 C272.2 345.7 269.8 346.9 276.5 345.6 C283.2 344.3 283.5 344.9 287 344.6" fill="none" stroke="#2e4857" stroke-width="7.9" stroke-linejoin="round" stroke-linecap="butt"/>
<path d="M256 383 C256.8 379.3 257.8 379 258.5 372 C259.2 365 257.2 368 258 362 C258.8 356 258 358.5 261 354 C264 349.5 261.8 351.3 267 348.5 C272.2 345.7 269.8 346.9 276.5 345.6 C283.2 344.3 283.5 344.9 287 344.6" fill="none" stroke="#bcd3e0" stroke-width="5.3" stroke-linejoin="round" stroke-linecap="butt"/>
<path d="M289.2 346.9 C290.5 347.2 293.3 348.2 295.8 348.4 C298.4 348.6 297.4 349.3 301.9 347.9 C306.5 346.5 307.1 346.3 318.3 341.4 C329.6 336.5 346.3 328.7 358.3 323.4 C370.3 318.1 369.9 318.4 378.4 314.8 C386.8 311.3 394.9 307.7 400.6 305.7 C406.3 303.7 404.6 305.4 406.9 304.8 C409.3 304.2 408.5 304.4 412.3 302.7 C416.1 301.1 418.8 300.8 425.9 296.7 C433 292.7 440.1 287.1 447.8 282.7 C455.5 278.3 458.6 278 464.2 274.6 C469.8 271.3 472 269.3 475.6 266 C479.2 262.6 479.4 261.4 482.1 257.8 C484.7 254.3 487.5 250 488.9 248.1 L494.7 251.9 C493.4 254 491 258.1 488.3 262.2 C485.7 266.2 485.5 268 481.6 272 C477.7 276 474.7 278.5 468.8 282.2 C462.9 285.8 459.9 285.9 452.2 290.3 C444.5 294.7 437.4 300.2 430.1 304.3 C422.8 308.3 419.9 308.9 415.7 310.7 C411.5 312.4 411.5 312.5 409.1 313.2 C406.6 313.8 408.9 312 403.4 313.9 C397.9 315.8 390 319.4 381.6 322.8 C373.3 326.2 373.7 325.8 361.7 331 C349.7 336.2 333.2 344 321.7 349 C310.1 354 309.5 355 304.1 356.1 C298.6 357.3 297.4 356 294.2 354.8 C290.9 353.5 289.1 350.7 287.8 349.7 Z" fill="#a3c1d3" stroke="none"/>
<path d="M288.9 347.6 C290.2 348.1 292.7 349.5 295.4 350 C298.1 350.5 297.7 351.3 302.5 349.9 C307.2 348.6 307.8 348.2 319.2 343.3 C330.5 338.4 347.2 330.6 359.2 325.3 C371.2 320 370.8 320.3 379.2 316.8 C387.6 313.3 395.6 309.7 401.3 307.8 C406.9 305.8 405.1 307.5 407.5 306.9 C409.8 306.3 409.3 306.4 413.2 304.7 C417.1 303.1 419.8 302.6 426.9 298.6 C434.1 294.6 441.2 289 448.9 284.6 C456.6 280.2 459.7 279.9 465.3 276.5 C471 273.1 473.5 271 477.1 267.5 C480.8 264 481 262.6 483.6 258.9 C486.3 255.2 489 251 490.3 249" fill="none" stroke="#587f98" stroke-width="0.9"/>
<path d="M288.5 348.3 C289.8 349 292.1 350.9 295 351.6 C297.9 352.3 298 353.3 303 352 C308 350.7 308.6 350.2 320 345.2 C331.4 340.2 348 332.5 360 327.2 C372 321.9 371.6 322.3 380 318.8 C388.4 315.3 396.4 311.8 402 309.8 C407.6 307.8 405.6 309.6 408 309 C410.4 308.4 410 308.4 414 306.7 C418 305 420.8 304.5 428 300.5 C435.2 296.5 442.3 290.9 450 286.5 C457.7 282.1 460.8 281.9 466.5 278.4 C472.2 274.9 474.9 272.7 478.6 269 C482.3 265.3 482.6 263.8 485.2 260 C487.8 256.2 490.5 252 491.8 250" fill="none" stroke="#587f98" stroke-width="0.9"/>
<path d="M288.1 349 C289.4 349.8 291.5 352.2 294.6 353.2 C297.7 354.2 298.3 355.3 303.5 354.1 C308.8 352.8 309.4 352.1 320.8 347.1 C332.3 342.1 348.8 334.4 360.8 329.1 C372.8 323.8 372.4 324.2 380.8 320.8 C389.2 317.3 397.2 313.8 402.7 311.8 C408.3 309.9 406.1 311.7 408.5 311.1 C411 310.5 410.7 310.4 414.8 308.7 C418.9 306.9 421.8 306.4 429.1 302.4 C436.3 298.3 443.4 292.8 451.1 288.4 C458.8 284 461.9 283.9 467.7 280.3 C473.5 276.7 476.3 274.4 480.1 270.5 C483.9 266.7 484.1 265 486.8 261.1 C489.4 257.2 492 253 493.3 251" fill="none" stroke="#587f98" stroke-width="0.9"/>
<path d="M289.2 346.9 C290.5 347.2 293.3 348.2 295.8 348.4 C298.4 348.6 297.4 349.3 301.9 347.9 C306.5 346.5 307.1 346.3 318.3 341.4 C329.6 336.5 346.3 328.7 358.3 323.4 C370.3 318.1 369.9 318.4 378.4 314.8 C386.8 311.3 394.9 307.7 400.6 305.7 C406.3 303.7 404.6 305.4 406.9 304.8 C409.3 304.2 408.5 304.4 412.3 302.7 C416.1 301.1 418.8 300.8 425.9 296.7 C433 292.7 440.1 287.1 447.8 282.7 C455.5 278.3 458.6 278 464.2 274.6 C469.8 271.3 472 269.3 475.6 266 C479.2 262.6 479.4 261.4 482.1 257.8 C484.7 254.3 487.5 250 488.9 248.1" fill="none" stroke="#2e4857" stroke-width="1.4" stroke-linecap="round"/>
<path d="M287.8 349.7 C289.1 350.7 290.9 353.5 294.2 354.8 C297.4 356 298.6 357.3 304.1 356.1 C309.5 355 310.1 354 321.7 349 C333.2 344 349.7 336.2 361.7 331 C373.7 325.8 373.3 326.2 381.6 322.8 C390 319.4 397.9 315.8 403.4 313.9 C408.9 312 406.6 313.8 409.1 313.2 C411.5 312.5 411.5 312.4 415.7 310.7 C419.9 308.9 422.8 308.3 430.1 304.3 C437.4 300.2 444.5 294.7 452.2 290.3 C459.9 285.9 462.9 285.8 468.8 282.2 C474.7 278.5 477.7 276 481.6 272 C485.5 268 485.7 266.2 488.3 262.2 C491 258.1 493.4 254 494.7 251.9" fill="none" stroke="#2e4857" stroke-width="1.4" stroke-linecap="round"/>
<path d="M486 259 C487.4 256.9 488.9 254.2 492 250 C495.1 245.8 496.5 244.7 499.5 241.2 C502.5 237.7 501.1 236.9 505 234.8 C508.9 232.7 510.9 233.6 516 232 C521.1 230.4 522.3 229.7 527 227.8 C531.7 225.9 533.9 224.7 536 223.8" fill="none" stroke="#2e4857" stroke-width="5.5" stroke-linejoin="round" stroke-linecap="butt"/>
<path d="M486 259 C487.4 256.9 488.9 254.2 492 250 C495.1 245.8 496.5 244.7 499.5 241.2 C502.5 237.7 501.1 236.9 505 234.8 C508.9 232.7 510.9 233.6 516 232 C521.1 230.4 522.3 229.7 527 227.8 C531.7 225.9 533.9 224.7 536 223.8" fill="none" stroke="#a3c1d3" stroke-width="2.9" stroke-linejoin="round" stroke-linecap="butt"/>
<path d="M482 257 C483.9 254.7 485.8 251.4 490 247 C494.2 242.6 495 241.9 500 238 C505 234.1 507.4 233.6 511.6 230.2 C515.8 226.8 515.8 226.2 518.2 223.6 C520.6 221 521.1 220.1 522 219" fill="none" stroke="#2e4857" stroke-width="4.7" stroke-linejoin="round" stroke-linecap="butt"/>
<path d="M482 257 C483.9 254.7 485.8 251.4 490 247 C494.2 242.6 495 241.9 500 238 C505 234.1 507.4 233.6 511.6 230.2 C515.8 226.8 515.8 226.2 518.2 223.6 C520.6 221 521.1 220.1 522 219" fill="none" stroke="#a3c1d3" stroke-width="2.1" stroke-linejoin="round" stroke-linecap="butt"/>
<path d="M286 344.6 C288.8 344.2 293.2 344.6 300 342.6 C306.8 340.6 308 340 320 334.8 C332 329.6 348 322.2 360 316.8 C372 311.4 368 313.2 380 307.8 C392 302.4 405 297.8 420 289.6 C435 281.4 445.7 272.5 455 266.6 C464.3 260.7 461.3 262.6 466.5 259.9 C471.7 257.2 475.3 255.4 480.8 253.3 C486.3 251.2 488.7 251.5 494 249.6 C499.3 247.7 502.8 245.2 507.2 243.6 C511.6 242 512 241.8 516 241.8 C520 241.8 522.8 244.2 527 243.6 C531.2 243 532.9 241.1 536.9 239 C540.9 236.9 545 234.2 547 233" fill="none" stroke="#2e4857" stroke-width="5.8" stroke-linejoin="round" stroke-linecap="butt"/>
<path d="M286 344.6 C288.8 344.2 293.2 344.6 300 342.6 C306.8 340.6 308 340 320 334.8 C332 329.6 348 322.2 360 316.8 C372 311.4 368 313.2 380 307.8 C392 302.4 405 297.8 420 289.6 C435 281.4 445.7 272.5 455 266.6 C464.3 260.7 461.3 262.6 466.5 259.9 C471.7 257.2 475.3 255.4 480.8 253.3 C486.3 251.2 488.7 251.5 494 249.6 C499.3 247.7 502.8 245.2 507.2 243.6 C511.6 242 512 241.8 516 241.8 C520 241.8 522.8 244.2 527 243.6 C531.2 243 532.9 241.1 536.9 239 C540.9 236.9 545 234.2 547 233" fill="none" stroke="#cbdce6" stroke-width="3.2" stroke-linejoin="round" stroke-linecap="butt"/>
<path d="M276.3 341.6 L285.6 340.2 L287 348.6 L277.2 349.8Z" fill="#dfeaf1" stroke="#2e4857" stroke-width="1" stroke-linejoin="round" />
<path d="M521 220.5 L523.7 216 L520.4 211.5 L511 207" fill="none" stroke="#27343d" stroke-width="4.2" stroke-linejoin="round" stroke-linecap="butt"/>
<path d="M521 220.5 L523.7 216 L520.4 211.5 L511 207" fill="none" stroke="#6c8596" stroke-width="1" stroke-linejoin="round" stroke-linecap="butt"/>
<path d="M533.5 225 L541 221.6" fill="none" stroke="#27343d" stroke-width="4.6" stroke-linejoin="round" stroke-linecap="butt"/>
<path d="M533.5 225 L541 221.6" fill="none" stroke="#6c8596" stroke-width="1.2" stroke-linejoin="round" stroke-linecap="butt"/>
<path d="M544.5 234.5 L552 230.2" fill="none" stroke="#27343d" stroke-width="4.6" stroke-linejoin="round" stroke-linecap="butt"/>
<path d="M544.5 234.5 L552 230.2" fill="none" stroke="#6c8596" stroke-width="1.2" stroke-linejoin="round" stroke-linecap="butt"/>
</g>
<line x1="343.7" y1="299.6" x2="343.7" y2="318.2" stroke="#454b50" stroke-width="1.7"/>
<text x="344" y="296" font-size="17" text-anchor="middle" fill="#1c1c1c" stroke="#1c1c1c" stroke-width="0.45" >1</text>
<line x1="405.8" y1="351.2" x2="405.8" y2="369" stroke="#454b50" stroke-width="1.7"/>
<text x="405.6" y="347.4" font-size="17" text-anchor="middle" fill="#1c1c1c" stroke="#1c1c1c" stroke-width="0.45" >2</text>
<line x1="566.4" y1="273.6" x2="566.4" y2="287" stroke="#454b50" stroke-width="1.7"/>
<text x="565.5" y="270.4" font-size="17" text-anchor="middle" fill="#1c1c1c" stroke="#1c1c1c" stroke-width="0.45" >15</text>
<path d="M537 370.4 L557.8 356 L564.2 360.8 L573.8 360.8 L581.8 357.6 L583.4 364 L575.4 368.8 L569 368.8 L557.8 381.6 L545 386.4 L538.6 383.2 L535.4 391.2 L530.6 396 L526.6 394.4 L527.4 388 L535.4 381.6Z" fill="#4f7a95" stroke="#22394a" stroke-width="1.5" stroke-linejoin="round" />
<path d="M566 362 L573.8 361.5 L581.2 358.6 L582.5 363.6 L575.4 367.8 L569 368Z" fill="#86a9bf" stroke-linejoin="round" />
<path d="M568.2 384.8 L591.4 370.4 L597.8 372 L607.4 376.8 L610.6 388 L594.6 410.4 L585 413.6 L569 408.8Z" fill="#9dbace" stroke="#22394a" stroke-width="1.5" stroke-linejoin="round" />
<path d="M575.4 383.2 L593 372 L601 376.8 L607.4 388 L594.6 396 L580.2 404 L575.4 400.8Z" fill="#4f7a95" stroke="#22394a" stroke-width="0.9" stroke-linejoin="round" />
<path d="M574 382 L592.5 370.8" fill="none" stroke="#dfeaf1" stroke-width="1.6" stroke-linejoin="round" />
<circle cx="583.4" cy="405.8" r="3.8" fill="#cfdfe8" stroke="#22394a" stroke-width="1.5"/>
<circle cx="592.2" cy="400.8" r="3.8" fill="#cfdfe8" stroke="#22394a" stroke-width="1.5"/>
<circle cx="601" cy="394.6" r="3.8" fill="#cfdfe8" stroke="#22394a" stroke-width="1.5"/>
<circle cx="517.8" cy="382.4" r="4.8" fill="#5f86a0" stroke="#22394a" stroke-width="2"/>
<circle cx="517.3" cy="381.6" r="2" fill="#a9c5d5"/>
<circle cx="545.8" cy="398.4" r="4" fill="#5f86a0" stroke="#22394a" stroke-width="2"/>
<circle cx="545.3" cy="397.6" r="1.7" fill="#a9c5d5"/>
<circle cx="621" cy="381.6" r="4.6" fill="#5f86a0" stroke="#22394a" stroke-width="2"/>
<circle cx="620.5" cy="380.8" r="1.9" fill="#a9c5d5"/>
<circle cx="653.8" cy="358.4" r="4.4" fill="#5f86a0" stroke="#22394a" stroke-width="2"/>
<circle cx="653.3" cy="357.6" r="1.8" fill="#a9c5d5"/>
<circle cx="559.4" cy="416.8" r="4.4" fill="#5f86a0" stroke="#22394a" stroke-width="2"/>
<circle cx="558.9" cy="416" r="1.8" fill="#a9c5d5"/>
<circle cx="521.8" cy="432.8" r="4.4" fill="#5f86a0" stroke="#22394a" stroke-width="2"/>
<circle cx="521.3" cy="432" r="1.8" fill="#a9c5d5"/>
<path d="M629.8 377.6 C630.4 376.6 632.2 373.2 633.5 371.5 C634.8 369.8 635.8 368.4 637.8 367.2 C639.8 365.9 644.5 364.5 645.8 364" fill="none" stroke="#22394a" stroke-width="5.4" stroke-linejoin="round" stroke-linecap="round"/>
<path d="M629.8 377.6 C630.4 376.6 632.2 373.2 633.5 371.5 C634.8 369.8 635.8 368.4 637.8 367.2 C639.8 365.9 644.5 364.5 645.8 364" fill="none" stroke="#a9c5d5" stroke-width="2.6" stroke-linejoin="round" stroke-linecap="round"/>
<path d="M529.8 426.4 C531 425.9 534.7 423.3 537 423.2 C539.3 423.1 541 425.7 543.4 425.6 C545.8 425.5 550.1 422.9 551.4 422.4" fill="none" stroke="#22394a" stroke-width="5.4" stroke-linejoin="round" stroke-linecap="round"/>
<path d="M529.8 426.4 C531 425.9 534.7 423.3 537 423.2 C539.3 423.1 541 425.7 543.4 425.6 C545.8 425.5 550.1 422.9 551.4 422.4" fill="none" stroke="#a9c5d5" stroke-width="2.6" stroke-linejoin="round" stroke-linecap="round"/>
<path d="M618.6 396 L628 400.8" fill="none" stroke="#22394a" stroke-width="2.6" stroke-linejoin="round" stroke-linecap="butt"/>
<circle cx="630" cy="401.8" r="3" fill="#5f86a0" stroke="#22394a" stroke-width="2"/>
<circle cx="629.5" cy="401" r="1.3" fill="#a9c5d5"/>
<line x1="522.5" y1="363" x2="522.5" y2="374" stroke="#454b50" stroke-width="1.7"/>
<text x="522.6" y="360.3" font-size="17" text-anchor="middle" fill="#1c1c1c" stroke="#1c1c1c" stroke-width="0.45" >9</text>
<line x1="577.5" y1="343.5" x2="577.5" y2="357" stroke="#454b50" stroke-width="1.7"/>
<text x="576" y="340.5" font-size="17" text-anchor="middle" fill="#1c1c1c" stroke="#1c1c1c" stroke-width="0.45" >11</text>
<line x1="621.3" y1="358.7" x2="621.3" y2="374.5" stroke="#454b50" stroke-width="1.7"/>
<text x="621.5" y="355.5" font-size="17" text-anchor="middle" fill="#1c1c1c" stroke="#1c1c1c" stroke-width="0.45" >8</text>
<line x1="637.5" y1="349" x2="637.5" y2="362.5" stroke="#454b50" stroke-width="1.7"/>
<text x="637" y="346.5" font-size="17" text-anchor="middle" fill="#1c1c1c" stroke="#1c1c1c" stroke-width="0.45" >13</text>
<line x1="655.5" y1="364.5" x2="655.5" y2="376" stroke="#454b50" stroke-width="1.7"/>
<text x="656.2" y="390.7" font-size="17" text-anchor="middle" fill="#1c1c1c" stroke="#1c1c1c" stroke-width="0.45" >8</text>
<line x1="531.5" y1="403" x2="540" y2="400.3" stroke="#454b50" stroke-width="1.7"/>
<text x="518.6" y="414" font-size="17" text-anchor="middle" fill="#1c1c1c" stroke="#1c1c1c" stroke-width="0.45" >17</text>
<line x1="592.5" y1="413.5" x2="592.5" y2="424" stroke="#454b50" stroke-width="1.7"/>
<text x="593" y="438.7" font-size="17" text-anchor="middle" fill="#1c1c1c" stroke="#1c1c1c" stroke-width="0.45" >12</text>
<line x1="630" y1="406" x2="630" y2="416" stroke="#454b50" stroke-width="1.7"/>
<text x="629" y="431.5" font-size="17" text-anchor="middle" fill="#1c1c1c" stroke="#1c1c1c" stroke-width="0.45" >10</text>
<line x1="541" y1="429.5" x2="541" y2="438.5" stroke="#454b50" stroke-width="1.7"/>
<text x="539.4" y="451.5" font-size="17" text-anchor="middle" fill="#1c1c1c" stroke="#1c1c1c" stroke-width="0.45" >14</text>
<line x1="562.6" y1="423" x2="562.6" y2="434.5" stroke="#454b50" stroke-width="1.7"/>
<text x="563.4" y="449.1" font-size="17" text-anchor="middle" fill="#1c1c1c" stroke="#1c1c1c" stroke-width="0.45" >8</text>
<line x1="522.6" y1="439" x2="522.6" y2="449" stroke="#454b50" stroke-width="1.7"/>
<text x="522.6" y="463.5" font-size="17" text-anchor="middle" fill="#1c1c1c" stroke="#1c1c1c" stroke-width="0.45" >8</text>
<text x="501" y="510" font-size="25.5" text-anchor="middle" fill="#a0a0a0" stroke="#fff" stroke-width="0.6" paint-order="stroke" textLength="243" lengthAdjust="spacingAndGlyphs">domili.en.alibaba.com</text>
<path d="M217.6 616.4 C223.2 619.5 243.5 630.9 251.2 634.8 C258.9 638.7 258.7 639.3 264 639.6 C269.3 639.9 277.9 638 283.2 636.4 C288.5 634.8 292.9 632.7 296 630 C299.1 627.3 301.1 623.3 301.6 620.4 C302.1 617.5 301.2 614.8 299.2 612.4 C297.2 610 294.7 607.9 289.6 606 C284.5 604.1 273.3 603.1 268.8 601.2 C264.3 599.3 263.2 598.3 262.4 594.8 C261.6 591.3 261.3 585.7 264 580.4 C266.7 575.1 276.5 567.9 278.4 562.8 C280.3 557.7 275.9 554.8 275.2 550 C274.5 545.2 273.6 537.5 274.4 534 C275.2 530.5 277.5 529.5 280 529.2 C282.5 528.9 286.9 530.3 289.6 532.4 C292.3 534.5 294.7 538.1 296 542 C297.3 545.9 297.3 553.3 297.6 555.6" fill="none" stroke="#2c4759" stroke-width="5" stroke-linejoin="round" stroke-linecap="round"/>
<path d="M217.6 616.4 C223.2 619.5 243.5 630.9 251.2 634.8 C258.9 638.7 258.7 639.3 264 639.6 C269.3 639.9 277.9 638 283.2 636.4 C288.5 634.8 292.9 632.7 296 630 C299.1 627.3 301.1 623.3 301.6 620.4 C302.1 617.5 301.2 614.8 299.2 612.4 C297.2 610 294.7 607.9 289.6 606 C284.5 604.1 273.3 603.1 268.8 601.2 C264.3 599.3 263.2 598.3 262.4 594.8 C261.6 591.3 261.3 585.7 264 580.4 C266.7 575.1 276.5 567.9 278.4 562.8 C280.3 557.7 275.9 554.8 275.2 550 C274.5 545.2 273.6 537.5 274.4 534 C275.2 530.5 277.5 529.5 280 529.2 C282.5 528.9 286.9 530.3 289.6 532.4 C292.3 534.5 294.7 538.1 296 542 C297.3 545.9 297.3 553.3 297.6 555.6" fill="none" stroke="#a9c7d8" stroke-width="2.3" stroke-linejoin="round" stroke-linecap="round"/>
<path d="M289.6 646.8 C293.9 648.9 308.8 657.3 315.2 659.6 C321.6 661.9 323.2 661.6 328 660.4 C332.8 659.2 341.3 653.7 344 652.4" fill="none" stroke="#2c4759" stroke-width="5" stroke-linejoin="round" stroke-linecap="round"/>
<path d="M289.6 646.8 C293.9 648.9 308.8 657.3 315.2 659.6 C321.6 661.9 323.2 661.6 328 660.4 C332.8 659.2 341.3 653.7 344 652.4" fill="none" stroke="#a9c7d8" stroke-width="2.3" stroke-linejoin="round" stroke-linecap="round"/>
<path d="M345.6 647.6 C344.5 644.9 341.3 638.5 339.2 631.6 C337.1 624.7 335.7 611.7 332.8 606 C329.9 600.3 326.4 598.9 321.6 597.2 C316.8 595.5 308.8 594.9 304 595.6 C299.2 596.3 295.6 598.7 292.8 601.2 C290 603.7 289.3 608.3 287.2 610.8 C285.1 613.3 282.5 615.6 280 616.4 C277.5 617.2 276 617.3 272 615.6 C268 613.9 260 609.2 256 606 C252 602.8 249.1 600.1 248 596.4 C246.9 592.7 246.1 589.5 249.6 583.6 C253.1 577.7 266.4 567.3 268.8 561.2 C271.2 555.1 264.7 552.1 264 546.8 C263.3 541.5 263.2 533.3 264.8 529.2 C266.4 525.1 270 523.1 273.6 522 C277.2 520.9 279.5 520.5 286.4 522.8 C293.3 525.1 309.3 531.9 315.2 535.6 C321.1 539.3 321.6 540.9 321.6 545.2 C321.6 549.5 316.3 558.5 315.2 561.2" fill="none" stroke="#2c4759" stroke-width="5" stroke-linejoin="round" stroke-linecap="round"/>
<path d="M345.6 647.6 C344.5 644.9 341.3 638.5 339.2 631.6 C337.1 624.7 335.7 611.7 332.8 606 C329.9 600.3 326.4 598.9 321.6 597.2 C316.8 595.5 308.8 594.9 304 595.6 C299.2 596.3 295.6 598.7 292.8 601.2 C290 603.7 289.3 608.3 287.2 610.8 C285.1 613.3 282.5 615.6 280 616.4 C277.5 617.2 276 617.3 272 615.6 C268 613.9 260 609.2 256 606 C252 602.8 249.1 600.1 248 596.4 C246.9 592.7 246.1 589.5 249.6 583.6 C253.1 577.7 266.4 567.3 268.8 561.2 C271.2 555.1 264.7 552.1 264 546.8 C263.3 541.5 263.2 533.3 264.8 529.2 C266.4 525.1 270 523.1 273.6 522 C277.2 520.9 279.5 520.5 286.4 522.8 C293.3 525.1 309.3 531.9 315.2 535.6 C321.1 539.3 321.6 540.9 321.6 545.2 C321.6 549.5 316.3 558.5 315.2 561.2" fill="none" stroke="#a9c7d8" stroke-width="2.3" stroke-linejoin="round" stroke-linecap="round"/>
<path d="M338.5 630 L346 650" fill="none" stroke="#2c4759" stroke-width="6.6" stroke-linejoin="round" stroke-linecap="butt"/>
<path d="M338.5 630 L346 650" fill="none" stroke="#a9c7d8" stroke-width="4" stroke-linejoin="round" stroke-linecap="butt"/>
<rect x="294.5" y="559.5" width="9" height="7.5" rx="2" fill="#5d8198" stroke="#24394a" stroke-width="1.6"/>
<rect x="305.5" y="569" width="9" height="7.5" rx="2" fill="#5d8198" stroke="#24394a" stroke-width="1.6"/>
<line x1="297" y1="571" x2="292" y2="579" stroke="#1c1c1c" stroke-width="0.9"/>
<text x="290" y="590" font-size="17" text-anchor="middle" fill="#1c1c1c" stroke="#1c1c1c" stroke-width="0.45" >18</text>
<line x1="320" y1="569.5" x2="331" y2="569.5" stroke="#454b50" stroke-width="1.7"/>
<text x="343" y="575" font-size="17" text-anchor="middle" fill="#1c1c1c" stroke="#1c1c1c" stroke-width="0.45" >19</text>
<line x1="254" y1="547.5" x2="264" y2="547.5" stroke="#454b50" stroke-width="1.7"/>
<text x="242" y="553.8" font-size="17" text-anchor="middle" fill="#1c1c1c" stroke="#1c1c1c" stroke-width="0.45" >22</text>
<text x="206.5" y="606" font-size="17" text-anchor="middle" fill="#1c1c1c" stroke="#1c1c1c" stroke-width="0.45" >25</text>
<line x1="206" y1="609" x2="206" y2="622" stroke="#454b50" stroke-width="1.7"/>
<text x="235" y="601" font-size="17" text-anchor="middle" fill="#1c1c1c" stroke="#1c1c1c" stroke-width="0.45" >21</text>
<line x1="233.4" y1="605" x2="233.4" y2="617" stroke="#454b50" stroke-width="1.7"/>
<text x="221" y="674" font-size="17" text-anchor="middle" fill="#1c1c1c" stroke="#1c1c1c" stroke-width="0.45" >24</text>
<line x1="231.5" y1="667.5" x2="244" y2="667.5" stroke="#454b50" stroke-width="1.7"/>
<path d="M197.2 631.2 C197.9 630.5 199.3 628 201.2 627.2 C203.1 626.4 206.4 625.9 208.4 626.4 C210.4 626.9 212.5 628.7 213.2 630.4 C213.9 632.1 213.3 635.2 212.4 636.8 C211.5 638.4 209.7 639.6 207.6 640 C205.5 640.4 201.3 640.7 199.6 639.2 C197.9 637.7 197.6 632.5 197.2 631.2" fill="#86a8be" stroke="#1f3545" stroke-width="1.8" stroke-linejoin="round" />
<path d="M202 629.6 L209 628.6 L210 634.6 L203 635.6Z" fill="#d5e3eb" stroke="#1f3545" stroke-width="0.8" stroke-linejoin="round" />
<path d="M198.8 640 L211.6 640 L211.6 643.2 L207.6 644.8 L206.8 648.8 L203.6 649.6 L202.8 645.6 L199.6 644Z" fill="#9dbbcc" stroke="#1f3545" stroke-width="1.6" stroke-linejoin="round" />
<path d="M242.8 667.2 L246 672.8 L254 676 L262 672.8 L266.8 666.4 L268.4 658.4 L264.4 654.4 L261.2 656.8 L262.8 663.2 L258.8 668.8 L254 669.6 L255.6 663.2 L257.2 658.4 L254 657.6 L250.8 663.2 L249.2 668.8 L246 667.2Z" fill="#b4ccda" stroke="#1f3545" stroke-width="1.6" stroke-linejoin="round" />
<g transform="translate(0 0)">
<path d="M216.6 704.4 C213.2 702.6 205.8 699.5 202.2 696.6 C198.6 693.7 199.9 694.3 201 691.8 C202.1 689.3 203.1 687.5 207 685.8 C210.9 684.1 213 683.8 217.8 684.6 C222.6 685.4 223.5 686.9 227.4 689.4 C231.3 691.9 231 693.6 234.6 695.4 C238.2 697.2 238.8 698.1 243 697 C247.2 695.9 248.1 692.9 252.6 690.6 C257.1 688.3 258.3 687.5 262.2 687.2 C266.1 686.9 261.3 684.8 269.4 689.4 C277.5 694 289.7 701.8 297 706.8 C304.3 711.8 300 706.7 300.6 711 C301.2 715.3 298.5 719.8 299.6 725.4 C300.7 731 301.8 730.1 305.4 735 C309 739.9 310.5 743.4 315 746.6 C319.5 749.8 319.6 749.4 324.6 748.9 C329.6 748.4 330.4 748 336.6 744.4 C342.8 740.8 347.6 736.1 351 733.6" fill="none" stroke="#1f3545" stroke-width="4" stroke-linejoin="round" stroke-linecap="round"/>
<path d="M216.6 704.4 C213.2 702.6 205.8 699.5 202.2 696.6 C198.6 693.7 199.9 694.3 201 691.8 C202.1 689.3 203.1 687.5 207 685.8 C210.9 684.1 213 683.8 217.8 684.6 C222.6 685.4 223.5 686.9 227.4 689.4 C231.3 691.9 231 693.6 234.6 695.4 C238.2 697.2 238.8 698.1 243 697 C247.2 695.9 248.1 692.9 252.6 690.6 C257.1 688.3 258.3 687.5 262.2 687.2 C266.1 686.9 261.3 684.8 269.4 689.4 C277.5 694 289.7 701.8 297 706.8 C304.3 711.8 300 706.7 300.6 711 C301.2 715.3 298.5 719.8 299.6 725.4 C300.7 731 301.8 730.1 305.4 735 C309 739.9 310.5 743.4 315 746.6 C319.5 749.8 319.6 749.4 324.6 748.9 C329.6 748.4 330.4 748 336.6 744.4 C342.8 740.8 347.6 736.1 351 733.6" fill="none" stroke="#7fa1b6" stroke-width="1.1" stroke-linejoin="round" stroke-linecap="round"/>
<path d="M207 685.8 C208.8 685.6 214.4 684 217.8 684.6 C221.2 685.2 225.8 688.6 227.4 689.4" fill="none" stroke="#1f3545" stroke-width="5.2" stroke-linejoin="round" stroke-linecap="round"/>
<path d="M207 685.8 C208.8 685.6 214.4 684 217.8 684.6 C221.2 685.2 225.8 688.6 227.4 689.4" fill="none" stroke="#9dbace" stroke-width="2" stroke-linejoin="round" stroke-linecap="round"/>
<path d="M317 747.5 C318.3 747.7 321.9 749.1 324.6 748.9 C327.3 748.7 331.6 746.7 333 746.3" fill="none" stroke="#1f3545" stroke-width="5.2" stroke-linejoin="round" stroke-linecap="round"/>
<path d="M317 747.5 C318.3 747.7 321.9 749.1 324.6 748.9 C327.3 748.7 331.6 746.7 333 746.3" fill="none" stroke="#9dbace" stroke-width="2" stroke-linejoin="round" stroke-linecap="round"/>
<path d="M266.5 701 L276 699.5 L277.5 703 L272 708.5 L267 707Z" fill="#3d5a6e" stroke="#1f3545" stroke-width="1.6" stroke-linejoin="round" />
<path d="M362 723.7 L379.6 708.3" fill="none" stroke="#2c4759" stroke-width="6.4" stroke-linejoin="round" stroke-linecap="butt"/>
<path d="M362 723.7 L379.6 708.3" fill="none" stroke="#bdd2df" stroke-width="3.2" stroke-linejoin="round" stroke-linecap="butt"/>
<circle cx="356.5" cy="729.2" r="4" fill="#8fb0c4" stroke="#22394a" stroke-width="2.4"/>
<circle cx="356" cy="729.7" r="1.4" fill="#e4edf2"/>
<circle cx="385.1" cy="701.7" r="4" fill="#8fb0c4" stroke="#22394a" stroke-width="2.4"/>
<circle cx="384.6" cy="702.2" r="1.4" fill="#e4edf2"/>
<path d="M389.5 697.3 L401.6 687.4" fill="none" stroke="#22343f" stroke-width="3" stroke-linejoin="round" stroke-linecap="butt"/>
<path d="M401.6 687.4 C401.6 686.7 401.2 684.4 401.8 683 C402.4 681.6 403.3 680.2 404.9 679.2 C406.5 678.2 409.5 678.2 411.5 677 C413.5 675.8 415.7 674.3 417 672 C418.3 669.7 419.3 665.7 419.4 663.2 C419.5 660.7 417.8 658 417.5 657" fill="none" stroke="#2c4759" stroke-width="2" stroke-linejoin="round" />
<path d="M401.6 687.4 C401.6 686.7 401.2 684.4 401.8 683 C402.4 681.6 403.3 680.2 404.9 679.2 C406.5 678.2 409.5 678.2 411.5 677 C413.5 675.8 415.7 674.3 417 672 C418.3 669.7 419.3 665.7 419.4 663.2 C419.5 660.7 417.8 658 417.5 657" fill="none" stroke="#9dbace" stroke-width="0.6" stroke-linejoin="round" />
<path d="M379 590.7 C379.8 594.8 379.8 594.6 381.5 603 C383.2 611.4 383.2 611.7 384 616" fill="none" stroke="#2c4759" stroke-width="4.9" stroke-linejoin="round" stroke-linecap="butt"/>
<path d="M379 590.7 C379.8 594.8 379.8 594.6 381.5 603 C383.2 611.4 383.2 611.7 384 616" fill="none" stroke="#a3c1d3" stroke-width="2.3" stroke-linejoin="round" stroke-linecap="butt"/>
<path d="M398.5 595.9 C396.7 599.6 396.3 600 393 607 C389.7 614 390 613.7 388.5 617" fill="none" stroke="#2c4759" stroke-width="4.9" stroke-linejoin="round" stroke-linecap="butt"/>
<path d="M398.5 595.9 C396.7 599.6 396.3 600 393 607 C389.7 614 390 613.7 388.5 617" fill="none" stroke="#a3c1d3" stroke-width="2.3" stroke-linejoin="round" stroke-linecap="butt"/>
<path d="M379 590.5 L380.2 597" fill="none" stroke="#24394a" stroke-width="3.6" stroke-linejoin="round" stroke-linecap="butt"/>
<path d="M398.8 595.5 L396 601" fill="none" stroke="#24394a" stroke-width="3.6" stroke-linejoin="round" stroke-linecap="butt"/>
<path d="M386 615 C382.7 621.7 381.5 623.7 376 635 C370.5 646.3 371.8 640.3 369.5 649 C367.2 657.7 365.8 654 369 661 C372.2 668 372 668.2 379 670 C386 671.8 382.3 673.2 390 666.5 C397.7 659.8 395 656.5 402 650 C409 643.5 404.5 647 411 647 C417.5 647 414.6 647.2 421.6 650 C428.6 652.8 428.5 653.7 432 655.5" fill="none" stroke="#2c4759" stroke-width="11.8" stroke-linejoin="round" stroke-linecap="butt"/>
<path d="M386 615 C382.7 621.7 381.5 623.7 376 635 C370.5 646.3 371.8 640.3 369.5 649 C367.2 657.7 365.8 654 369 661 C372.2 668 372 668.2 379 670 C386 671.8 382.3 673.2 390 666.5 C397.7 659.8 395 656.5 402 650 C409 643.5 404.5 647 411 647 C417.5 647 414.6 647.2 421.6 650 C428.6 652.8 428.5 653.7 432 655.5" fill="none" stroke="#a3c1d3" stroke-width="9" stroke-linejoin="round" stroke-linecap="butt"/>
<path d="M386 615 C382.7 621.7 381.5 623.7 376 635 C370.5 646.3 371.8 640.3 369.5 649 C367.2 657.7 365.8 654 369 661 C372.2 668 372 668.2 379 670 C386 671.8 382.3 673.2 390 666.5 C397.7 659.8 395 656.5 402 650 C409 643.5 404.5 647 411 647 C417.5 647 414.6 647.2 421.6 650 C428.6 652.8 428.5 653.7 432 655.5" fill="none" stroke="#6d93ab" stroke-width="0.9" stroke-linejoin="round" stroke-linecap="butt"/>
<path d="M427.7 645.8 C429.9 644.5 444.7 636.4 449.2 634 C453.7 631.5 467.1 625.2 470.2 622.7 C473.2 620.2 476.3 613.1 477.9 610.4 C479.5 607.6 483 599.1 485.2 597 C487.4 594.8 494.8 591.3 498.7 590.5 C502.5 589.7 517.8 588.8 521.2 589.6 C524.7 590.4 527.6 594.5 530.8 597.8 C534.1 601 548.9 616 551.4 620.5 C553.9 624.9 554.3 635.8 554.7 639.4 C555.1 643 554.7 652.2 554.9 654.2 C555.1 656.2 556 657.6 556.4 658 C556.7 658.3 556.5 658.2 558.3 657.6 C560 657 569.3 653.4 572.8 652 C576.4 650.7 587.3 646 591.3 645 C595.3 643.9 607.9 642.7 610.5 642.1 C613 641.5 613.7 640.1 614.9 639 C616.2 637.8 619.9 632.9 621.8 631.1 C623.8 629.3 630.1 624.2 633.1 622.3 C636.2 620.3 646.1 615.1 650.4 612.7 C654.7 610.3 670.7 601.3 673.2 599.9 L680.4 612.9 C678 614.2 661.8 623.3 657.6 625.7 C653.4 628 643.7 633 640.9 634.7 C638 636.4 632.9 640.2 631 641.7 C629.1 643.2 624.9 647.7 623.1 649 C621.2 650.3 616.6 653.1 613.5 653.9 C610.5 654.7 598.2 655.7 594.3 656.6 C590.4 657.6 580.6 661.8 577.2 663.2 C573.7 664.6 565 668.6 561.7 669.4 C558.5 670.2 548.7 672.5 546.6 671 C544.6 669.6 542.8 659.1 542.3 655.8 C541.8 652.6 542.2 643.7 541.9 640.6 C541.6 637.6 541.8 631.1 539.6 627.5 C537.4 624 523.4 609.5 521.2 607.2 C518.9 605 520.9 606.4 518.8 606.4 C516.7 606.4 503.7 606.7 501.3 606.9 C499 607.1 497.9 607.2 496.8 608.4 C495.7 609.7 493 615.4 491.3 618.2 C489.6 621.1 484.5 632.2 480.8 635.3 C477.2 638.5 461.7 645.4 456.8 648 C452 650.6 437.6 658.6 435.3 659.8 Z" fill="#b2ccdb" stroke="none"/>
<path d="M429.2 648.6 C431.5 647.3 446.1 639.3 450.7 636.8 C455.3 634.3 469.1 627.9 472.3 625.2 C475.5 622.6 479 614.7 480.6 611.9 C482.2 609.2 485.5 601.2 487.5 599.3 C489.5 597.3 495.7 594.5 499.2 593.8 C502.7 593.1 517.6 592.3 520.7 593 C523.9 593.6 525.9 596.6 528.9 599.7 C531.9 602.7 546.6 617.6 549 621.9 C551.5 626.2 551.8 636.1 552.1 639.6 C552.5 643.1 552.1 652.3 552.4 654.5 C552.6 656.7 553.7 660 554.4 660.6 C555.1 661.2 556.9 660.6 559 660 C561 659.3 570.2 655.6 573.7 654.2 C577.2 652.9 587.9 648.3 591.9 647.3 C595.9 646.2 608.4 645.1 611.1 644.5 C613.7 643.8 615.2 642.2 616.6 641 C617.9 639.8 621.7 634.9 623.7 633.2 C625.6 631.5 631.7 626.7 634.7 624.8 C637.7 622.9 647.6 617.7 651.8 615.3 C656.1 612.9 672.2 603.9 674.6 602.5" fill="none" stroke="#55798f" stroke-width="1"/>
<path d="M430.7 651.4 C433 650.1 447.6 642.1 452.2 639.6 C456.9 637.1 471.1 630.5 474.4 627.7 C477.7 625 481.6 616.3 483.3 613.5 C484.9 610.7 488.1 603.3 489.8 601.6 C491.6 599.8 496.5 597.6 499.7 597.1 C503 596.5 517.3 595.8 520.2 596.3 C523.2 596.8 524.1 598.7 527 601.6 C529.8 604.4 544.3 619.2 546.7 623.3 C549.1 627.4 549.2 636.5 549.6 639.9 C549.9 643.2 549.6 652.3 549.9 654.8 C550.2 657.3 551.4 662.4 552.5 663.2 C553.5 664 557.3 663 559.7 662.3 C562 661.6 571.1 657.8 574.6 656.5 C578.1 655.1 588.5 650.7 592.5 649.6 C596.5 648.6 609 647.5 611.7 646.8 C614.4 646.1 616.7 644.2 618.2 643 C619.7 641.8 623.6 637 625.5 635.3 C627.4 633.7 633.3 629.1 636.2 627.3 C639.2 625.4 649 620.3 653.3 617.9 C657.5 615.5 673.6 606.5 676.1 605.1" fill="none" stroke="#55798f" stroke-width="1"/>
<path d="M432.3 654.2 C434.6 652.9 449 645 453.8 642.4 C458.5 639.9 473.1 633.2 476.6 630.3 C480 627.4 484.3 617.9 485.9 615.1 C487.6 612.3 490.6 605.4 492.2 603.8 C493.7 602.3 497.3 600.8 500.3 600.3 C503.2 599.9 517.1 599.3 519.8 599.7 C522.4 600 522.4 600.8 525 603.4 C527.7 606.1 542 620.8 544.3 624.7 C546.7 628.6 546.7 636.9 547 640.1 C547.3 643.4 547 652.4 547.3 655.2 C547.7 657.9 549.1 664.8 550.5 665.8 C551.9 666.8 557.7 665.4 560.3 664.7 C563 663.9 571.9 660.1 575.4 658.7 C578.9 657.4 589.2 653 593.1 652 C597 651 609.5 649.9 612.3 649.2 C615.2 648.4 618.2 646.3 619.8 645 C621.4 643.8 625.4 639.1 627.3 637.5 C629.2 635.8 634.9 631.6 637.8 629.7 C640.7 627.9 650.5 622.8 654.7 620.5 C659 618.1 675.1 609.1 677.5 607.7" fill="none" stroke="#55798f" stroke-width="1"/>
<path d="M433.8 657 C436.1 655.8 450.5 647.8 455.3 645.2 C460.1 642.6 475.2 635.8 478.7 632.8 C482.3 629.8 486.9 619.5 488.6 616.7 C490.3 613.8 493.2 607.5 494.5 606.1 C495.8 604.8 498.2 603.9 500.8 603.6 C503.4 603.3 516.9 602.9 519.3 603 C521.6 603.2 520.7 602.9 523.1 605.3 C525.5 607.8 539.7 622.4 542 626.1 C544.2 629.8 544.2 637.2 544.5 640.4 C544.8 643.5 544.4 652.5 544.8 655.5 C545.3 658.5 546.8 667.2 548.6 668.4 C550.3 669.6 558.1 667.8 561 667 C564 666.2 572.8 662.3 576.3 661 C579.8 659.6 589.8 655.3 593.7 654.3 C597.6 653.3 610 652.3 612.9 651.5 C615.9 650.8 619.7 648.3 621.4 647 C623.2 645.7 627.2 641.2 629.1 639.6 C631.1 638 636.4 634 639.3 632.2 C642.2 630.5 651.9 625.4 656.2 623.1 C660.4 620.7 676.5 611.6 679 610.3" fill="none" stroke="#55798f" stroke-width="1"/>
<path d="M427.7 645.8 C429.9 644.5 444.7 636.4 449.2 634 C453.7 631.5 467.1 625.2 470.2 622.7 C473.2 620.2 476.3 613.1 477.9 610.4 C479.5 607.6 483 599.1 485.2 597 C487.4 594.8 494.8 591.3 498.7 590.5 C502.5 589.7 517.8 588.8 521.2 589.6 C524.7 590.4 527.6 594.5 530.8 597.8 C534.1 601 548.9 616 551.4 620.5 C553.9 624.9 554.3 635.8 554.7 639.4 C555.1 643 554.7 652.2 554.9 654.2 C555.1 656.2 556 657.6 556.4 658 C556.7 658.3 556.5 658.2 558.3 657.6 C560 657 569.3 653.4 572.8 652 C576.4 650.7 587.3 646 591.3 645 C595.3 643.9 607.9 642.7 610.5 642.1 C613 641.5 613.7 640.1 614.9 639 C616.2 637.8 619.9 632.9 621.8 631.1 C623.8 629.3 630.1 624.2 633.1 622.3 C636.2 620.3 646.1 615.1 650.4 612.7 C654.7 610.3 670.7 601.3 673.2 599.9" fill="none" stroke="#2c4759" stroke-width="1.5" stroke-linecap="round"/>
<path d="M435.3 659.8 C437.6 658.6 452 650.6 456.8 648 C461.7 645.4 477.2 638.5 480.8 635.3 C484.5 632.2 489.6 621.1 491.3 618.2 C493 615.4 495.7 609.7 496.8 608.4 C497.9 607.2 499 607.1 501.3 606.9 C503.7 606.7 516.7 606.4 518.8 606.4 C520.9 606.4 518.9 605 521.2 607.2 C523.4 609.5 537.4 624 539.6 627.5 C541.8 631.1 541.6 637.6 541.9 640.6 C542.2 643.7 541.8 652.6 542.3 655.8 C542.8 659.1 544.6 669.6 546.6 671 C548.7 672.5 558.5 670.2 561.7 669.4 C565 668.6 573.7 664.6 577.2 663.2 C580.6 661.8 590.4 657.6 594.3 656.6 C598.2 655.7 610.5 654.7 613.5 653.9 C616.6 653.1 621.2 650.3 623.1 649 C624.9 647.7 629.1 643.2 631 641.7 C632.9 640.2 638 636.4 640.9 634.7 C643.7 633 653.4 628 657.6 625.7 C661.8 623.3 678 614.2 680.4 612.9" fill="none" stroke="#2c4759" stroke-width="1.5" stroke-linecap="round"/>
<path d="M427.7 645.8 L435.3 659.8" stroke="#2c4759" stroke-width="1.5" stroke-linecap="round"/>
<path d="M673.2 599.9 L680.4 612.9" stroke="#2c4759" stroke-width="1.5" stroke-linecap="round"/>
<path d="M428.5 671.5 L433.5 668 L440.5 669.5 L441.5 692 L436.5 696.5 L429.5 693.5Z" fill="#b4ccda" stroke="#22394a" stroke-width="1.6" stroke-linejoin="round" />
<path d="M435 673.5 L440.5 670 L441.5 692 L436.5 696.5 L435 694Z" fill="#6c95af" stroke-linejoin="round" />
<circle cx="431.8" cy="675.5" r="1.3" fill="#eef4f8"/>
<circle cx="431.8" cy="681.5" r="1.3" fill="#eef4f8"/>
<circle cx="431.8" cy="687.5" r="1.3" fill="#eef4f8"/>
<path d="M514 631 L519 626.5 L540 638 L539 644 L534 645 L514.5 635.5Z" fill="#7e9fb4" stroke="#24394a" stroke-width="1.4" stroke-linejoin="round" />
<circle cx="520" cy="632.5" r="1.5" fill="#dfeaf1"/>
<circle cx="526.5" cy="636.1" r="1.5" fill="#dfeaf1"/>
<circle cx="533" cy="639.7" r="1.5" fill="#dfeaf1"/>
<line x1="271" y1="709" x2="271" y2="739" stroke="#454b50" stroke-width="1.7"/>
<text x="271" y="753.7" font-size="17" text-anchor="middle" fill="#1c1c1c" stroke="#1c1c1c" stroke-width="0.45" >3</text>
<line x1="302.5" y1="733" x2="302.5" y2="758" stroke="#454b50" stroke-width="1.7"/>
<line x1="357.6" y1="733" x2="357.6" y2="741" stroke="#454b50" stroke-width="1.7"/>
<text x="357.6" y="753.7" font-size="17" text-anchor="middle" fill="#1c1c1c" stroke="#1c1c1c" stroke-width="0.45" >4</text>
<line x1="375" y1="715" x2="375" y2="741" stroke="#454b50" stroke-width="1.7"/>
<text x="375" y="753.7" font-size="17" text-anchor="middle" fill="#1c1c1c" stroke="#1c1c1c" stroke-width="0.45" >7</text>
<line x1="389.6" y1="706" x2="389.6" y2="741" stroke="#454b50" stroke-width="1.7"/>
<text x="389.6" y="753.7" font-size="17" text-anchor="middle" fill="#1c1c1c" stroke="#1c1c1c" stroke-width="0.45" >4</text>
<line x1="412.6" y1="679" x2="412.6" y2="741" stroke="#454b50" stroke-width="1.7"/>
<text x="412.6" y="753.7" font-size="17" text-anchor="middle" fill="#1c1c1c" stroke="#1c1c1c" stroke-width="0.45" >23</text>
<line x1="436" y1="697" x2="436" y2="741" stroke="#454b50" stroke-width="1.7"/>
<text x="436" y="753.7" font-size="17" text-anchor="middle" fill="#1c1c1c" stroke="#1c1c1c" stroke-width="0.45" >5</text>
<line x1="454.2" y1="634" x2="454.2" y2="758" stroke="#454b50" stroke-width="1.7"/>
<line x1="468" y1="624" x2="468" y2="758" stroke="#454b50" stroke-width="1.7"/>
<text x="482.4" y="753.7" font-size="17" text-anchor="middle" fill="#1c1c1c" stroke="#1c1c1c" stroke-width="0.45" >6</text>
<line x1="526" y1="646" x2="526" y2="653" stroke="#454b50" stroke-width="1.7"/>
<text x="526" y="666" font-size="17" text-anchor="middle" fill="#1c1c1c" stroke="#1c1c1c" stroke-width="0.45" >6</text>
<path d="M255.2 750.4 L263.8 760 L370.4 760 L376.8 769.6 L383.2 760 L490.4 760 L500 750.4" fill="none" stroke="#3a4248" stroke-width="1.5" stroke-linejoin="round" />
<text x="376.8" y="787" font-size="17" text-anchor="middle" fill="#1c1c1c" stroke="#1c1c1c" stroke-width="0.45" >1</text>
</g>
<g transform="translate(141 192.5)">
<path d="M216.6 704.4 C213.2 702.6 205.8 699.5 202.2 696.6 C198.6 693.7 199.9 694.3 201 691.8 C202.1 689.3 203.1 687.5 207 685.8 C210.9 684.1 213 683.8 217.8 684.6 C222.6 685.4 223.5 686.9 227.4 689.4 C231.3 691.9 231 693.6 234.6 695.4 C238.2 697.2 238.8 698.1 243 697 C247.2 695.9 248.1 692.9 252.6 690.6 C257.1 688.3 258.3 687.5 262.2 687.2 C266.1 686.9 261.3 684.8 269.4 689.4 C277.5 694 289.7 701.8 297 706.8 C304.3 711.8 300 706.7 300.6 711 C301.2 715.3 298.5 719.8 299.6 725.4 C300.7 731 301.8 730.1 305.4 735 C309 739.9 310.5 743.4 315 746.6 C319.5 749.8 319.6 749.4 324.6 748.9 C329.6 748.4 330.4 748 336.6 744.4 C342.8 740.8 347.6 736.1 351 733.6" fill="none" stroke="#1f3545" stroke-width="4" stroke-linejoin="round" stroke-linecap="round"/>
<path d="M216.6 704.4 C213.2 702.6 205.8 699.5 202.2 696.6 C198.6 693.7 199.9 694.3 201 691.8 C202.1 689.3 203.1 687.5 207 685.8 C210.9 684.1 213 683.8 217.8 684.6 C222.6 685.4 223.5 686.9 227.4 689.4 C231.3 691.9 231 693.6 234.6 695.4 C238.2 697.2 238.8 698.1 243 697 C247.2 695.9 248.1 692.9 252.6 690.6 C257.1 688.3 258.3 687.5 262.2 687.2 C266.1 686.9 261.3 684.8 269.4 689.4 C277.5 694 289.7 701.8 297 706.8 C304.3 711.8 300 706.7 300.6 711 C301.2 715.3 298.5 719.8 299.6 725.4 C300.7 731 301.8 730.1 305.4 735 C309 739.9 310.5 743.4 315 746.6 C319.5 749.8 319.6 749.4 324.6 748.9 C329.6 748.4 330.4 748 336.6 744.4 C342.8 740.8 347.6 736.1 351 733.6" fill="none" stroke="#7fa1b6" stroke-width="1.1" stroke-linejoin="round" stroke-linecap="round"/>
<path d="M207 685.8 C208.8 685.6 214.4 684 217.8 684.6 C221.2 685.2 225.8 688.6 227.4 689.4" fill="none" stroke="#1f3545" stroke-width="5.2" stroke-linejoin="round" stroke-linecap="round"/>
<path d="M207 685.8 C208.8 685.6 214.4 684 217.8 684.6 C221.2 685.2 225.8 688.6 227.4 689.4" fill="none" stroke="#9dbace" stroke-width="2" stroke-linejoin="round" stroke-linecap="round"/>
<path d="M317 747.5 C318.3 747.7 321.9 749.1 324.6 748.9 C327.3 748.7 331.6 746.7 333 746.3" fill="none" stroke="#1f3545" stroke-width="5.2" stroke-linejoin="round" stroke-linecap="round"/>
<path d="M317 747.5 C318.3 747.7 321.9 749.1 324.6 748.9 C327.3 748.7 331.6 746.7 333 746.3" fill="none" stroke="#9dbace" stroke-width="2" stroke-linejoin="round" stroke-linecap="round"/>
<path d="M266.5 701 L276 699.5 L277.5 703 L272 708.5 L267 707Z" fill="#3d5a6e" stroke="#1f3545" stroke-width="1.6" stroke-linejoin="round" />
<path d="M362 723.7 L379.6 708.3" fill="none" stroke="#2c4759" stroke-width="6.4" stroke-linejoin="round" stroke-linecap="butt"/>
<path d="M362 723.7 L379.6 708.3" fill="none" stroke="#bdd2df" stroke-width="3.2" stroke-linejoin="round" stroke-linecap="butt"/>
<circle cx="356.5" cy="729.2" r="4" fill="#8fb0c4" stroke="#22394a" stroke-width="2.4"/>
<circle cx="356" cy="729.7" r="1.4" fill="#e4edf2"/>
<circle cx="385.1" cy="701.7" r="4" fill="#8fb0c4" stroke="#22394a" stroke-width="2.4"/>
<circle cx="384.6" cy="702.2" r="1.4" fill="#e4edf2"/>
<path d="M389.5 697.3 L401.6 687.4" fill="none" stroke="#22343f" stroke-width="3" stroke-linejoin="round" stroke-linecap="butt"/>
<path d="M401.6 687.4 C401.6 686.7 401.2 684.4 401.8 683 C402.4 681.6 403.3 680.2 404.9 679.2 C406.5 678.2 409.5 678.2 411.5 677 C413.5 675.8 415.7 674.3 417 672 C418.3 669.7 419.3 665.7 419.4 663.2 C419.5 660.7 417.8 658 417.5 657" fill="none" stroke="#2c4759" stroke-width="2" stroke-linejoin="round" />
<path d="M401.6 687.4 C401.6 686.7 401.2 684.4 401.8 683 C402.4 681.6 403.3 680.2 404.9 679.2 C406.5 678.2 409.5 678.2 411.5 677 C413.5 675.8 415.7 674.3 417 672 C418.3 669.7 419.3 665.7 419.4 663.2 C419.5 660.7 417.8 658 417.5 657" fill="none" stroke="#9dbace" stroke-width="0.6" stroke-linejoin="round" />
<path d="M379 590.7 C379.8 594.8 379.8 594.6 381.5 603 C383.2 611.4 383.2 611.7 384 616" fill="none" stroke="#2c4759" stroke-width="4.9" stroke-linejoin="round" stroke-linecap="butt"/>
<path d="M379 590.7 C379.8 594.8 379.8 594.6 381.5 603 C383.2 611.4 383.2 611.7 384 616" fill="none" stroke="#a3c1d3" stroke-width="2.3" stroke-linejoin="round" stroke-linecap="butt"/>
<path d="M398.5 595.9 C396.7 599.6 396.3 600 393 607 C389.7 614 390 613.7 388.5 617" fill="none" stroke="#2c4759" stroke-width="4.9" stroke-linejoin="round" stroke-linecap="butt"/>
<path d="M398.5 595.9 C396.7 599.6 396.3 600 393 607 C389.7 614 390 613.7 388.5 617" fill="none" stroke="#a3c1d3" stroke-width="2.3" stroke-linejoin="round" stroke-linecap="butt"/>
<path d="M379 590.5 L380.2 597" fill="none" stroke="#24394a" stroke-width="3.6" stroke-linejoin="round" stroke-linecap="butt"/>
<path d="M398.8 595.5 L396 601" fill="none" stroke="#24394a" stroke-width="3.6" stroke-linejoin="round" stroke-linecap="butt"/>
<path d="M386 615 C382.7 621.7 381.5 623.7 376 635 C370.5 646.3 371.8 640.3 369.5 649 C367.2 657.7 365.8 654 369 661 C372.2 668 372 668.2 379 670 C386 671.8 382.3 673.2 390 666.5 C397.7 659.8 395 656.5 402 650 C409 643.5 404.5 647 411 647 C417.5 647 414.6 647.2 421.6 650 C428.6 652.8 428.5 653.7 432 655.5" fill="none" stroke="#2c4759" stroke-width="11.8" stroke-linejoin="round" stroke-linecap="butt"/>
<path d="M386 615 C382.7 621.7 381.5 623.7 376 635 C370.5 646.3 371.8 640.3 369.5 649 C367.2 657.7 365.8 654 369 661 C372.2 668 372 668.2 379 670 C386 671.8 382.3 673.2 390 666.5 C397.7 659.8 395 656.5 402 650 C409 643.5 404.5 647 411 647 C417.5 647 414.6 647.2 421.6 650 C428.6 652.8 428.5 653.7 432 655.5" fill="none" stroke="#a3c1d3" stroke-width="9" stroke-linejoin="round" stroke-linecap="butt"/>
<path d="M386 615 C382.7 621.7 381.5 623.7 376 635 C370.5 646.3 371.8 640.3 369.5 649 C367.2 657.7 365.8 654 369 661 C372.2 668 372 668.2 379 670 C386 671.8 382.3 673.2 390 666.5 C397.7 659.8 395 656.5 402 650 C409 643.5 404.5 647 411 647 C417.5 647 414.6 647.2 421.6 650 C428.6 652.8 428.5 653.7 432 655.5" fill="none" stroke="#6d93ab" stroke-width="0.9" stroke-linejoin="round" stroke-linecap="butt"/>
<path d="M427.7 645.8 C429.9 644.5 444.7 636.4 449.2 634 C453.7 631.5 467.1 625.2 470.2 622.7 C473.2 620.2 476.3 613.1 477.9 610.4 C479.5 607.6 483 599.1 485.2 597 C487.4 594.8 494.8 591.3 498.7 590.5 C502.5 589.7 517.8 588.8 521.2 589.6 C524.7 590.4 527.6 594.5 530.8 597.8 C534.1 601 548.9 616 551.4 620.5 C553.9 624.9 554.3 635.8 554.7 639.4 C555.1 643 554.7 652.2 554.9 654.2 C555.1 656.2 556 657.6 556.4 658 C556.7 658.3 556.5 658.2 558.3 657.6 C560 657 569.3 653.4 572.8 652 C576.4 650.7 587.3 646 591.3 645 C595.3 643.9 607.9 642.7 610.5 642.1 C613 641.5 613.7 640.1 614.9 639 C616.2 637.8 619.9 632.9 621.8 631.1 C623.8 629.3 630.1 624.2 633.1 622.3 C636.2 620.3 646.1 615.1 650.4 612.7 C654.7 610.3 670.7 601.3 673.2 599.9 L680.4 612.9 C678 614.2 661.8 623.3 657.6 625.7 C653.4 628 643.7 633 640.9 634.7 C638 636.4 632.9 640.2 631 641.7 C629.1 643.2 624.9 647.7 623.1 649 C621.2 650.3 616.6 653.1 613.5 653.9 C610.5 654.7 598.2 655.7 594.3 656.6 C590.4 657.6 580.6 661.8 577.2 663.2 C573.7 664.6 565 668.6 561.7 669.4 C558.5 670.2 548.7 672.5 546.6 671 C544.6 669.6 542.8 659.1 542.3 655.8 C541.8 652.6 542.2 643.7 541.9 640.6 C541.6 637.6 541.8 631.1 539.6 627.5 C537.4 624 523.4 609.5 521.2 607.2 C518.9 605 520.9 606.4 518.8 606.4 C516.7 606.4 503.7 606.7 501.3 606.9 C499 607.1 497.9 607.2 496.8 608.4 C495.7 609.7 493 615.4 491.3 618.2 C489.6 621.1 484.5 632.2 480.8 635.3 C477.2 638.5 461.7 645.4 456.8 648 C452 650.6 437.6 658.6 435.3 659.8 Z" fill="#b2ccdb" stroke="none"/>
<path d="M429.2 648.6 C431.5 647.3 446.1 639.3 450.7 636.8 C455.3 634.3 469.1 627.9 472.3 625.2 C475.5 622.6 479 614.7 480.6 611.9 C482.2 609.2 485.5 601.2 487.5 599.3 C489.5 597.3 495.7 594.5 499.2 593.8 C502.7 593.1 517.6 592.3 520.7 593 C523.9 593.6 525.9 596.6 528.9 599.7 C531.9 602.7 546.6 617.6 549 621.9 C551.5 626.2 551.8 636.1 552.1 639.6 C552.5 643.1 552.1 652.3 552.4 654.5 C552.6 656.7 553.7 660 554.4 660.6 C555.1 661.2 556.9 660.6 559 660 C561 659.3 570.2 655.6 573.7 654.2 C577.2 652.9 587.9 648.3 591.9 647.3 C595.9 646.2 608.4 645.1 611.1 644.5 C613.7 643.8 615.2 642.2 616.6 641 C617.9 639.8 621.7 634.9 623.7 633.2 C625.6 631.5 631.7 626.7 634.7 624.8 C637.7 622.9 647.6 617.7 651.8 615.3 C656.1 612.9 672.2 603.9 674.6 602.5" fill="none" stroke="#55798f" stroke-width="1"/>
<path d="M430.7 651.4 C433 650.1 447.6 642.1 452.2 639.6 C456.9 637.1 471.1 630.5 474.4 627.7 C477.7 625 481.6 616.3 483.3 613.5 C484.9 610.7 488.1 603.3 489.8 601.6 C491.6 599.8 496.5 597.6 499.7 597.1 C503 596.5 517.3 595.8 520.2 596.3 C523.2 596.8 524.1 598.7 527 601.6 C529.8 604.4 544.3 619.2 546.7 623.3 C549.1 627.4 549.2 636.5 549.6 639.9 C549.9 643.2 549.6 652.3 549.9 654.8 C550.2 657.3 551.4 662.4 552.5 663.2 C553.5 664 557.3 663 559.7 662.3 C562 661.6 571.1 657.8 574.6 656.5 C578.1 655.1 588.5 650.7 592.5 649.6 C596.5 648.6 609 647.5 611.7 646.8 C614.4 646.1 616.7 644.2 618.2 643 C619.7 641.8 623.6 637 625.5 635.3 C627.4 633.7 633.3 629.1 636.2 627.3 C639.2 625.4 649 620.3 653.3 617.9 C657.5 615.5 673.6 606.5 676.1 605.1" fill="none" stroke="#55798f" stroke-width="1"/>
<path d="M432.3 654.2 C434.6 652.9 449 645 453.8 642.4 C458.5 639.9 473.1 633.2 476.6 630.3 C480 627.4 484.3 617.9 485.9 615.1 C487.6 612.3 490.6 605.4 492.2 603.8 C493.7 602.3 497.3 600.8 500.3 600.3 C503.2 599.9 517.1 599.3 519.8 599.7 C522.4 600 522.4 600.8 525 603.4 C527.7 606.1 542 620.8 544.3 624.7 C546.7 628.6 546.7 636.9 547 640.1 C547.3 643.4 547 652.4 547.3 655.2 C547.7 657.9 549.1 664.8 550.5 665.8 C551.9 666.8 557.7 665.4 560.3 664.7 C563 663.9 571.9 660.1 575.4 658.7 C578.9 657.4 589.2 653 593.1 652 C597 651 609.5 649.9 612.3 649.2 C615.2 648.4 618.2 646.3 619.8 645 C621.4 643.8 625.4 639.1 627.3 637.5 C629.2 635.8 634.9 631.6 637.8 629.7 C640.7 627.9 650.5 622.8 654.7 620.5 C659 618.1 675.1 609.1 677.5 607.7" fill="none" stroke="#55798f" stroke-width="1"/>
<path d="M433.8 657 C436.1 655.8 450.5 647.8 455.3 645.2 C460.1 642.6 475.2 635.8 478.7 632.8 C482.3 629.8 486.9 619.5 488.6 616.7 C490.3 613.8 493.2 607.5 494.5 606.1 C495.8 604.8 498.2 603.9 500.8 603.6 C503.4 603.3 516.9 602.9 519.3 603 C521.6 603.2 520.7 602.9 523.1 605.3 C525.5 607.8 539.7 622.4 542 626.1 C544.2 629.8 544.2 637.2 544.5 640.4 C544.8 643.5 544.4 652.5 544.8 655.5 C545.3 658.5 546.8 667.2 548.6 668.4 C550.3 669.6 558.1 667.8 561 667 C564 666.2 572.8 662.3 576.3 661 C579.8 659.6 589.8 655.3 593.7 654.3 C597.6 653.3 610 652.3 612.9 651.5 C615.9 650.8 619.7 648.3 621.4 647 C623.2 645.7 627.2 641.2 629.1 639.6 C631.1 638 636.4 634 639.3 632.2 C642.2 630.5 651.9 625.4 656.2 623.1 C660.4 620.7 676.5 611.6 679 610.3" fill="none" stroke="#55798f" stroke-width="1"/>
<path d="M427.7 645.8 C429.9 644.5 444.7 636.4 449.2 634 C453.7 631.5 467.1 625.2 470.2 622.7 C473.2 620.2 476.3 613.1 477.9 610.4 C479.5 607.6 483 599.1 485.2 597 C487.4 594.8 494.8 591.3 498.7 590.5 C502.5 589.7 517.8 588.8 521.2 589.6 C524.7 590.4 527.6 594.5 530.8 597.8 C534.1 601 548.9 616 551.4 620.5 C553.9 624.9 554.3 635.8 554.7 639.4 C555.1 643 554.7 652.2 554.9 654.2 C555.1 656.2 556 657.6 556.4 658 C556.7 658.3 556.5 658.2 558.3 657.6 C560 657 569.3 653.4 572.8 652 C576.4 650.7 587.3 646 591.3 645 C595.3 643.9 607.9 642.7 610.5 642.1 C613 641.5 613.7 640.1 614.9 639 C616.2 637.8 619.9 632.9 621.8 631.1 C623.8 629.3 630.1 624.2 633.1 622.3 C636.2 620.3 646.1 615.1 650.4 612.7 C654.7 610.3 670.7 601.3 673.2 599.9" fill="none" stroke="#2c4759" stroke-width="1.5" stroke-linecap="round"/>
<path d="M435.3 659.8 C437.6 658.6 452 650.6 456.8 648 C461.7 645.4 477.2 638.5 480.8 635.3 C484.5 632.2 489.6 621.1 491.3 618.2 C493 615.4 495.7 609.7 496.8 608.4 C497.9 607.2 499 607.1 501.3 606.9 C503.7 606.7 516.7 606.4 518.8 606.4 C520.9 606.4 518.9 605 521.2 607.2 C523.4 609.5 537.4 624 539.6 627.5 C541.8 631.1 541.6 637.6 541.9 640.6 C542.2 643.7 541.8 652.6 542.3 655.8 C542.8 659.1 544.6 669.6 546.6 671 C548.7 672.5 558.5 670.2 561.7 669.4 C565 668.6 573.7 664.6 577.2 663.2 C580.6 661.8 590.4 657.6 594.3 656.6 C598.2 655.7 610.5 654.7 613.5 653.9 C616.6 653.1 621.2 650.3 623.1 649 C624.9 647.7 629.1 643.2 631 641.7 C632.9 640.2 638 636.4 640.9 634.7 C643.7 633 653.4 628 657.6 625.7 C661.8 623.3 678 614.2 680.4 612.9" fill="none" stroke="#2c4759" stroke-width="1.5" stroke-linecap="round"/>
<path d="M427.7 645.8 L435.3 659.8" stroke="#2c4759" stroke-width="1.5" stroke-linecap="round"/>
<path d="M673.2 599.9 L680.4 612.9" stroke="#2c4759" stroke-width="1.5" stroke-linecap="round"/>
<path d="M428.5 671.5 L433.5 668 L440.5 669.5 L441.5 692 L436.5 696.5 L429.5 693.5Z" fill="#b4ccda" stroke="#22394a" stroke-width="1.6" stroke-linejoin="round" />
<path d="M435 673.5 L440.5 670 L441.5 692 L436.5 696.5 L435 694Z" fill="#6c95af" stroke-linejoin="round" />
<circle cx="431.8" cy="675.5" r="1.3" fill="#eef4f8"/>
<circle cx="431.8" cy="681.5" r="1.3" fill="#eef4f8"/>
<circle cx="431.8" cy="687.5" r="1.3" fill="#eef4f8"/>
<path d="M514 631 L519 626.5 L540 638 L539 644 L534 645 L514.5 635.5Z" fill="#7e9fb4" stroke="#24394a" stroke-width="1.4" stroke-linejoin="round" />
<circle cx="520" cy="632.5" r="1.5" fill="#dfeaf1"/>
<circle cx="526.5" cy="636.1" r="1.5" fill="#dfeaf1"/>
<circle cx="533" cy="639.7" r="1.5" fill="#dfeaf1"/>
<line x1="271" y1="709" x2="271" y2="739" stroke="#454b50" stroke-width="1.7"/>
<text x="271" y="753.7" font-size="17" text-anchor="middle" fill="#1c1c1c" stroke="#1c1c1c" stroke-width="0.45" >3</text>
<line x1="302.5" y1="733" x2="302.5" y2="758" stroke="#454b50" stroke-width="1.7"/>
<line x1="357.6" y1="733" x2="357.6" y2="741" stroke="#454b50" stroke-width="1.7"/>
<text x="357.6" y="753.7" font-size="17" text-anchor="middle" fill="#1c1c1c" stroke="#1c1c1c" stroke-width="0.45" >4</text>
<line x1="375" y1="715" x2="375" y2="741" stroke="#454b50" stroke-width="1.7"/>
<text x="375" y="753.7" font-size="17" text-anchor="middle" fill="#1c1c1c" stroke="#1c1c1c" stroke-width="0.45" >7</text>
<line x1="389.6" y1="706" x2="389.6" y2="741" stroke="#454b50" stroke-width="1.7"/>
<text x="389.6" y="753.7" font-size="17" text-anchor="middle" fill="#1c1c1c" stroke="#1c1c1c" stroke-width="0.45" >4</text>
<line x1="412.6" y1="679" x2="412.6" y2="741" stroke="#454b50" stroke-width="1.7"/>
<text x="412.6" y="753.7" font-size="17" text-anchor="middle" fill="#1c1c1c" stroke="#1c1c1c" stroke-width="0.45" >23</text>
<line x1="436" y1="697" x2="436" y2="741" stroke="#454b50" stroke-width="1.7"/>
<text x="436" y="753.7" font-size="17" text-anchor="middle" fill="#1c1c1c" stroke="#1c1c1c" stroke-width="0.45" >5</text>
<line x1="454.2" y1="634" x2="454.2" y2="758" stroke="#454b50" stroke-width="1.7"/>
<line x1="468" y1="624" x2="468" y2="758" stroke="#454b50" stroke-width="1.7"/>
<line x1="525.5" y1="647" x2="486.5" y2="740.5" stroke="#454b50" stroke-width="1.7"/>
<text x="483" y="753.7" font-size="17" text-anchor="middle" fill="#1c1c1c" stroke="#1c1c1c" stroke-width="0.45" >6</text>
<text x="585" y="753.7" font-size="16" text-anchor="middle" fill="#1c1c1c" stroke="#1c1c1c" stroke-width="0.45" textLength="166" lengthAdjust="spacingAndGlyphs">8,10,11,12,13,14 ,15</text>
<path d="M254.6 749.5 L263 760.7 L464 760.7 L471.5 768.5 L479 760.7 L678.5 760.7 L687.5 749.5" fill="none" stroke="#3a4248" stroke-width="1.5" stroke-linejoin="round" />
<text x="471.5" y="788" font-size="17" text-anchor="middle" fill="#1c1c1c" stroke="#1c1c1c" stroke-width="0.45" >2</text>
</g>
<path d="M604.8 676 L598.4 684 L593.6 692 L588 691.2 L589.6 696.8 L591.2 703.2 L590.4 756 L591.2 770.4 L588 772 L588.8 776.8 L598.4 781.6 L600 786.4 L606.4 788 L608 783.2 L616 783.2 L617.6 778.4 L612.8 772 L606.4 770.4 L606.4 724 L608 719.2 L612.8 724 L615.2 722.4 L613.6 714.4 L608 712.8 L608 708 L612.8 700 L616 694.4 L611.2 692 L608 682.4Z" fill="#5f8aa5" stroke="#22394a" stroke-width="1.5" stroke-linejoin="round" />
<path d="M593.6 693 L598.4 686 L599 705 L598 770 L591.5 769 L590.6 756 L591.4 703.2Z" fill="#86a9bf" stroke-linejoin="round" />
<path d="M601 705 L606 708 L606 770 L600.5 770Z" fill="#4d7893" stroke-linejoin="round" />
<path d="M592 706 L606 698" fill="none" stroke="#2f4d62" stroke-width="0.7" stroke-linejoin="round" />
<path d="M592 734 L606 726" fill="none" stroke="#2f4d62" stroke-width="0.7" stroke-linejoin="round" />
<path d="M592 758 L606 750" fill="none" stroke="#2f4d62" stroke-width="0.7" stroke-linejoin="round" />
<path d="M598.8 688 L599.2 770" fill="none" stroke="#2f4d62" stroke-width="0.7" stroke-linejoin="round" />
<line x1="608.8" y1="739.2" x2="621.6" y2="739.2" stroke="#454b50" stroke-width="1.7"/>
<text x="632" y="744.3" font-size="17" text-anchor="middle" fill="#1c1c1c" stroke="#1c1c1c" stroke-width="0.45" >16</text>
<circle cx="580" cy="780" r="3.8" fill="#5f86a0" stroke="#22394a" stroke-width="2"/>
<circle cx="579.5" cy="779.2" r="1.6" fill="#a9c5d5"/>
<line x1="583.2" y1="785" x2="583.2" y2="797.6" stroke="#454b50" stroke-width="1.7"/>
<text x="582.4" y="812.3" font-size="17" text-anchor="middle" fill="#1c1c1c" stroke="#1c1c1c" stroke-width="0.45" >17</text>
<path d="M460.8 798 L463.2 802.8 L456 813.6 L448.8 828 L435.6 832.8 L439.2 842.4 L447.6 848.4 L459.6 847.2 L469.2 842.4 L469.2 850.8 L466.8 854.4 L470.4 855.6 L475.2 849.6 L478.8 837.6 L480 816 L480.6 809.4 L471.6 806.4 L465.6 800.4Z" fill="#b4ccda" stroke="#22394a" stroke-width="1.4" stroke-linejoin="round" />
<path d="M470 806 L480.6 809.4 L480 816 L478.8 837.6 L475.2 849.6 L470.4 855.6 L466.8 854.4 L469.2 850.8 L469.2 842.4 L470.5 826Z" fill="#4f7a95" stroke-linejoin="round" />
<path d="M439.2 842.4 L447.6 848.4 L459.6 847.2 L469.2 842.4 L469.6 836 L458 841 L446 841Z" fill="#7fa3ba" stroke-linejoin="round" />
<path d="M460.8 798 L463.2 802.8 L471.6 806.4 L480.6 809.4" fill="none" stroke="#22394a" stroke-width="1.6" stroke-linejoin="round" />
<circle cx="481.2" cy="858.6" r="3.8" fill="#5f86a0" stroke="#22394a" stroke-width="2"/>
<circle cx="480.7" cy="857.8" r="1.6" fill="#a9c5d5"/>
<path d="M446 857.2 L458.4 862.8" fill="none" stroke="#22394a" stroke-width="2.8" stroke-linejoin="round" stroke-linecap="butt"/>
<circle cx="445.2" cy="856.8" r="3.3" fill="#5f86a0" stroke="#22394a" stroke-width="2"/>
<circle cx="444.7" cy="856" r="1.4" fill="#a9c5d5"/>
<line x1="478.8" y1="793.8" x2="478.8" y2="804.6" stroke="#454b50" stroke-width="1.7"/>
<text x="480" y="790.7" font-size="17" text-anchor="middle" fill="#1c1c1c" stroke="#1c1c1c" stroke-width="0.45" >26</text>
<line x1="450.6" y1="864.6" x2="450.6" y2="871.2" stroke="#454b50" stroke-width="1.7"/>
<text x="451.8" y="885.5" font-size="17" text-anchor="middle" fill="#1c1c1c" stroke="#1c1c1c" stroke-width="0.45" >28</text>
<line x1="483" y1="863.5" x2="483" y2="870.6" stroke="#454b50" stroke-width="1.7"/>
<text x="484.2" y="885.5" font-size="17" text-anchor="middle" fill="#1c1c1c" stroke="#1c1c1c" stroke-width="0.45" >27</text>
<line x1="462.5" y1="849" x2="461" y2="866" stroke="#9fbccd" stroke-width="0.9"/>
</g>
</svg>
<svg class="t" width="1000" height="140" viewBox="0 0 1000 140">
<g font-size="36.3" fill="#000" stroke="#000" stroke-width="1.5" stroke-linejoin="round">
<text x="192.5" y="100.8" textLength="88.7" lengthAdjust="spacingAndGlyphs">Fuel,</text>
<text x="294.8" y="100.8" textLength="154.5" lengthAdjust="spacingAndGlyphs">Exhaust,</text>
<text x="463" y="100.8" textLength="53.4" lengthAdjust="spacingAndGlyphs">Air</text>
<text x="527.5" y="100.8" textLength="239.1" lengthAdjust="spacingAndGlyphs">conditioning</text>
<text x="774.2" y="100.8" textLength="94" lengthAdjust="spacingAndGlyphs">parts</text>
</g></svg>
</body></html>
